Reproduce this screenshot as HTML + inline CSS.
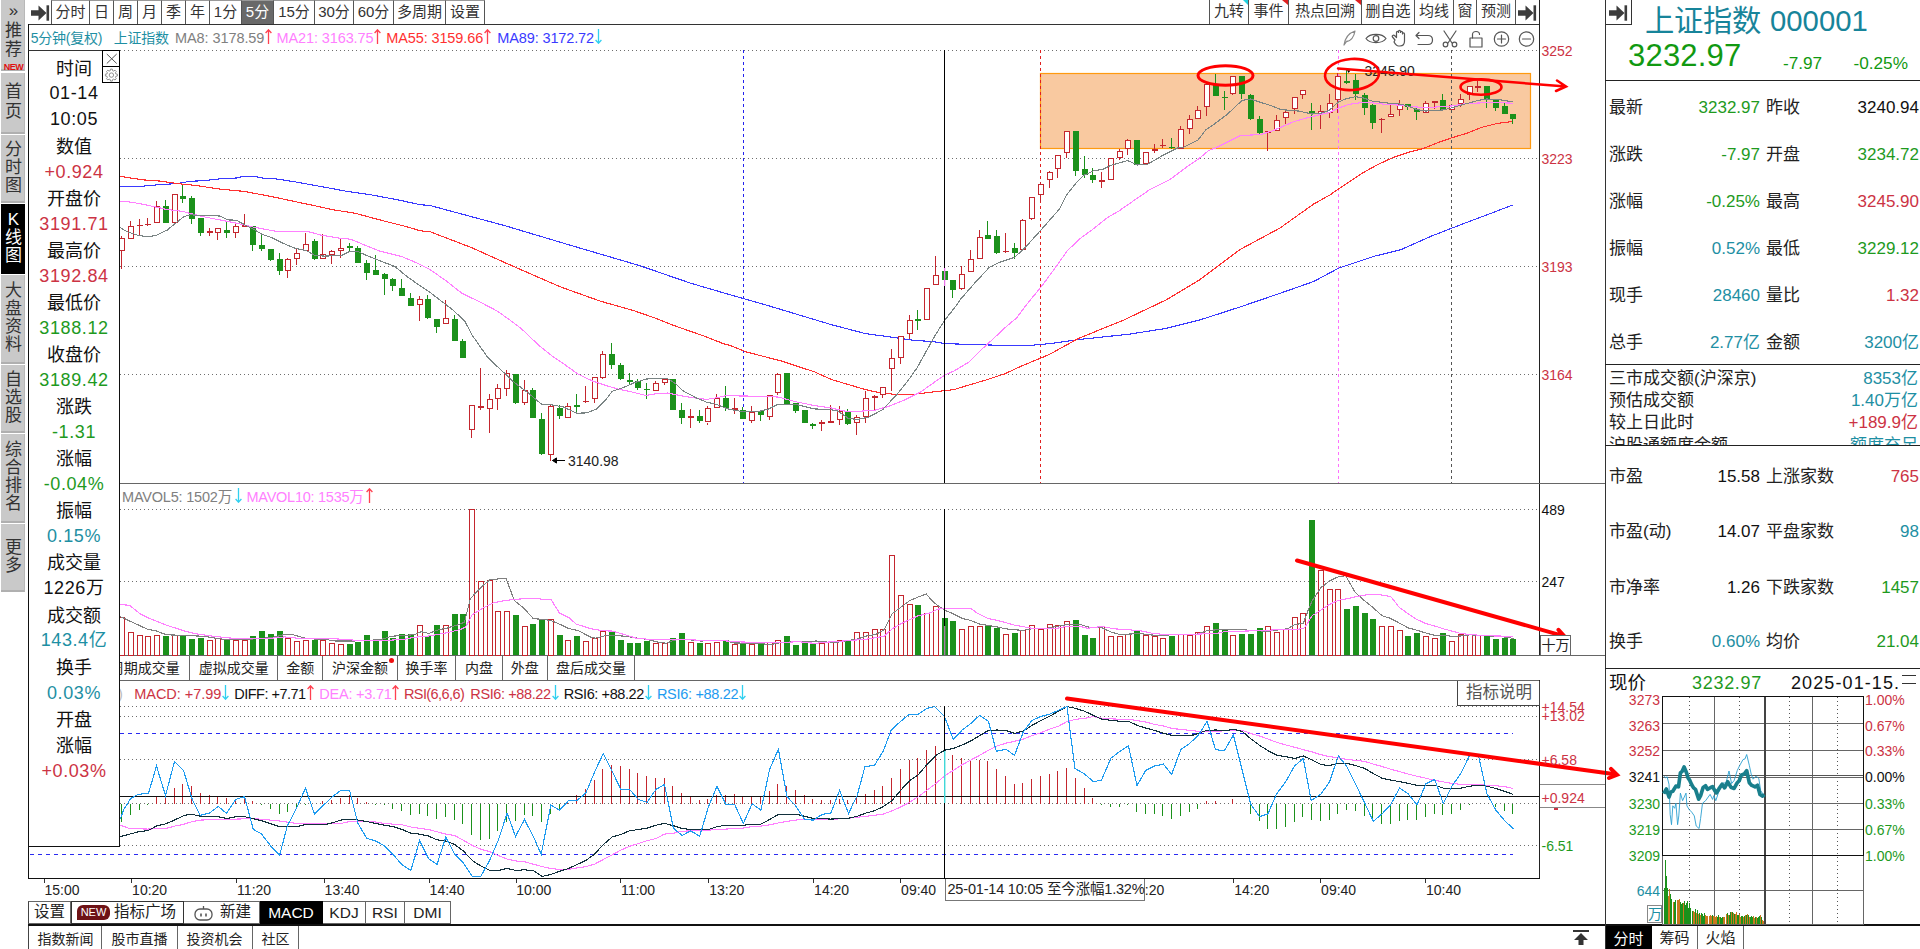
<!DOCTYPE html><html lang="zh"><head><meta charset="utf-8"><title>上证指数 000001</title><style>
*{box-sizing:border-box;margin:0;padding:0}
html,body{width:1920px;height:949px;overflow:hidden;background:#fff}
body{position:relative;font-family:"Liberation Sans","Noto Sans CJK SC",sans-serif;color:#222;font-size:14px}
.chart{position:absolute;left:0;top:0}
.chart text{font-family:"Liberation Sans","Noto Sans CJK SC",sans-serif}
.a{position:absolute;white-space:nowrap}
.tb{position:absolute;top:0;height:24px;border-left:1px solid #555;border-top:1px solid #999;line-height:22px;text-align:center;font-size:15px;color:#333;white-space:nowrap;overflow:hidden}
.tb.sel{background:#696969;color:#fff}
.side{position:absolute;left:1px;width:24px;background:#c9c9c9;border-bottom:2px solid #b0b0b0;border-right:1px solid #b8b8b8;color:#333;font-size:17px;line-height:18px;text-align:center;display:flex;flex-direction:column;justify-content:center;align-items:center;padding-left:2px}
.side.k{background:#000;color:#fff;border-color:#000}
.info{position:absolute;left:28px;top:50px;width:92px;height:797px;background:#fff;border:1px solid #111;border-top:1px solid #333}
.info div{position:absolute;left:0;width:90px;text-align:center;font-size:18px;line-height:26px;height:26px}
.r{color:#CC3344}.g{color:#1E9A1E}.t{color:#1E8FA3}.k{color:#111}
.yl{position:absolute;left:1541.5px;font-size:14px;line-height:16px;height:16px}
.tl{position:absolute;top:881px;font-size:14px;line-height:18px;color:#222}
.tab{position:absolute;border:1px solid #666;border-left:none;text-align:center;white-space:nowrap;color:#222;background:#fff}
.rp{position:absolute;font-size:17px;line-height:24px;height:24px;white-space:nowrap}
.rl{left:1609px}.rv{right:160px;text-align:right}.rl2{left:1766px}.rv2{right:1px;text-align:right}
.hl{position:absolute;left:1605px;width:315px;height:1px;background:#222}
.ml{position:absolute;font-size:14px;line-height:18px;height:18px}
</style></head><body>
<svg class="chart" width="1920" height="949" viewBox="0 0 1920 949">
<rect x="1040.5" y="73.5" width="490" height="75" fill="#F9C9A0" stroke="#FF9A10" stroke-width="1.2"/>
<g shape-rendering="crispEdges" fill="none">
<g stroke="#6e6e6e" stroke-dasharray="1 3">
<line x1="120" x2="1539" y1="50.5" y2="50.5"/>
<line x1="120" x2="1539" y1="158.5" y2="158.5"/>
<line x1="120" x2="1539" y1="266.5" y2="266.5"/>
<line x1="120" x2="1539" y1="374.5" y2="374.5"/>
<line x1="120" x2="1539" y1="509.5" y2="509.5"/>
<line x1="120" x2="1539" y1="581.5" y2="581.5"/>
<line x1="120" x2="1539" y1="706.5" y2="706.5"/>
<line x1="120" x2="1539" y1="716.5" y2="716.5"/>
<line x1="120" x2="1539" y1="759.5" y2="759.5"/>
<line x1="120" x2="1539" y1="803.5" y2="803.5"/>
<line x1="120" x2="1539" y1="845.5" y2="845.5"/>
</g>
<g stroke="#2a2af0" stroke-dasharray="4 4">
<line x1="120" x2="1513" y1="733.5" y2="733.5"/><line x1="30" x2="1513" y1="854.5" y2="854.5"/>
</g>
<line x1="743.5" x2="743.5" y1="50" y2="483" stroke="#2222ee" stroke-dasharray="3 3"/>
<line x1="1040.5" x2="1040.5" y1="50" y2="483" stroke="#e02020" stroke-dasharray="3 3"/>
<line x1="1338.5" x2="1338.5" y1="50" y2="483" stroke="#ff70ff" stroke-dasharray="3 3"/>
<line x1="1451.5" x2="1451.5" y1="50" y2="483" stroke="#555" stroke-dasharray="3 3"/>
<g stroke="#444">
<line x1="28" x2="1539" y1="24.5" y2="24.5" stroke="#333"/>
<line x1="28.5" x2="28.5" y1="24" y2="879" stroke="#111" stroke-width="1"/>
<line x1="1539.5" x2="1539.5" y1="0" y2="655" stroke="#222"/><line x1="1539.5" x2="1539.5" y1="680" y2="879" stroke="#222"/>
<line x1="28" x2="1605" y1="483.5" y2="483.5" stroke="#666"/>
<line x1="28" x2="1605" y1="655.5" y2="655.5" stroke="#666"/>
<line x1="28" x2="1539" y1="680.5" y2="680.5" stroke="#666"/>
<line x1="28" x2="1540" y1="878.5" y2="878.5" stroke="#111"/>
</g>
</g>
<g shape-rendering="crispEdges">
<rect x="119.5" y="617.1" width="5" height="38.4" fill="#fff" stroke="#C4262E"/>
<rect x="128.5" y="632.2" width="5" height="23.3" fill="#fff" stroke="#C4262E"/>
<rect x="137.5" y="635.9" width="5" height="19.6" fill="#fff" stroke="#C4262E"/>
<rect x="145.5" y="636.8" width="5" height="18.7" fill="#fff" stroke="#C4262E"/>
<rect x="154.5" y="635" width="5" height="20.5" fill="#fff" stroke="#C4262E"/>
<rect x="163" y="636" width="6" height="19" fill="#1B911B"/>
<rect x="172.5" y="635" width="5" height="20.5" fill="#fff" stroke="#C4262E"/>
<rect x="180" y="636" width="6" height="19" fill="#1B911B"/>
<rect x="189" y="639.2" width="6" height="15.8" fill="#1B911B"/>
<rect x="198" y="638.2" width="6" height="16.8" fill="#1B911B"/>
<rect x="207.5" y="640.6" width="5" height="14.9" fill="#fff" stroke="#C4262E"/>
<rect x="215.5" y="638.7" width="5" height="16.8" fill="#fff" stroke="#C4262E"/>
<rect x="224" y="639.5" width="6" height="15.5" fill="#1B911B"/>
<rect x="233.5" y="640" width="5" height="15.5" fill="#fff" stroke="#C4262E"/>
<rect x="242.5" y="640.6" width="5" height="14.9" fill="#fff" stroke="#C4262E"/>
<rect x="250" y="636" width="6" height="19" fill="#1B911B"/>
<rect x="259" y="631.1" width="6" height="23.9" fill="#1B911B"/>
<rect x="268" y="634.1" width="6" height="20.9" fill="#1B911B"/>
<rect x="277" y="631.1" width="6" height="23.9" fill="#1B911B"/>
<rect x="285.5" y="638.7" width="5" height="16.8" fill="#fff" stroke="#C4262E"/>
<rect x="294.5" y="641.5" width="5" height="14" fill="#fff" stroke="#C4262E"/>
<rect x="303.5" y="640.6" width="5" height="14.9" fill="#fff" stroke="#C4262E"/>
<rect x="312" y="639.5" width="6" height="15.5" fill="#1B911B"/>
<rect x="320.5" y="640" width="5" height="15.5" fill="#fff" stroke="#C4262E"/>
<rect x="329.5" y="643.8" width="5" height="11.7" fill="#fff" stroke="#C4262E"/>
<rect x="338.5" y="644.7" width="5" height="10.8" fill="#fff" stroke="#C4262E"/>
<rect x="347" y="644.2" width="6" height="10.8" fill="#1B911B"/>
<rect x="355" y="641.6" width="6" height="13.4" fill="#1B911B"/>
<rect x="364" y="635" width="6" height="20" fill="#1B911B"/>
<rect x="373" y="641" width="6" height="14" fill="#1B911B"/>
<rect x="382" y="631.1" width="6" height="23.9" fill="#1B911B"/>
<rect x="390" y="638.2" width="6" height="16.8" fill="#1B911B"/>
<rect x="399" y="634.1" width="6" height="20.9" fill="#1B911B"/>
<rect x="408" y="634.1" width="6" height="20.9" fill="#1B911B"/>
<rect x="417.5" y="625" width="5" height="30.5" fill="#fff" stroke="#C4262E"/>
<rect x="425" y="636" width="6" height="19" fill="#1B911B"/>
<rect x="434" y="625.1" width="6" height="29.9" fill="#1B911B"/>
<rect x="443.5" y="625.6" width="5" height="29.9" fill="#fff" stroke="#C4262E"/>
<rect x="452" y="613.8" width="6" height="41.2" fill="#1B911B"/>
<rect x="460" y="613.8" width="6" height="41.2" fill="#1B911B"/>
<rect x="469.5" y="509.8" width="5" height="145.7" fill="#fff" stroke="#C4262E"/>
<rect x="478.5" y="581.9" width="5" height="73.6" fill="#fff" stroke="#C4262E"/>
<rect x="487.5" y="580.2" width="5" height="75.3" fill="#fff" stroke="#C4262E"/>
<rect x="495.5" y="611" width="5" height="44.5" fill="#fff" stroke="#C4262E"/>
<rect x="504.5" y="611.9" width="5" height="43.6" fill="#fff" stroke="#C4262E"/>
<rect x="513" y="615.1" width="6" height="39.9" fill="#1B911B"/>
<rect x="522.5" y="626" width="5" height="29.5" fill="#fff" stroke="#C4262E"/>
<rect x="530" y="624.1" width="6" height="30.9" fill="#1B911B"/>
<rect x="539" y="619.5" width="6" height="35.5" fill="#1B911B"/>
<rect x="548.5" y="619" width="5" height="36.5" fill="#fff" stroke="#C4262E"/>
<rect x="557" y="635" width="6" height="20" fill="#1B911B"/>
<rect x="565.5" y="640" width="5" height="15.5" fill="#fff" stroke="#C4262E"/>
<rect x="574" y="636" width="6" height="19" fill="#1B911B"/>
<rect x="583.5" y="641" width="5" height="14.5" fill="#fff" stroke="#C4262E"/>
<rect x="592.5" y="638.7" width="5" height="16.8" fill="#fff" stroke="#C4262E"/>
<rect x="600.5" y="631.2" width="5" height="24.3" fill="#fff" stroke="#C4262E"/>
<rect x="609" y="631.7" width="6" height="23.3" fill="#1B911B"/>
<rect x="618" y="640.1" width="6" height="14.9" fill="#1B911B"/>
<rect x="627" y="643.3" width="6" height="11.7" fill="#1B911B"/>
<rect x="635" y="643.3" width="6" height="11.7" fill="#1B911B"/>
<rect x="644" y="641" width="6" height="14" fill="#1B911B"/>
<rect x="653.5" y="643.8" width="5" height="11.7" fill="#fff" stroke="#C4262E"/>
<rect x="662.5" y="643.8" width="5" height="11.7" fill="#fff" stroke="#C4262E"/>
<rect x="670" y="638.2" width="6" height="16.8" fill="#1B911B"/>
<rect x="679" y="633.2" width="6" height="21.8" fill="#1B911B"/>
<rect x="688.5" y="642.1" width="5" height="13.4" fill="#fff" stroke="#C4262E"/>
<rect x="697" y="643.3" width="6" height="11.7" fill="#1B911B"/>
<rect x="705.5" y="643.8" width="5" height="11.7" fill="#fff" stroke="#C4262E"/>
<rect x="714.5" y="642.1" width="5" height="13.4" fill="#fff" stroke="#C4262E"/>
<rect x="723" y="641" width="6" height="14" fill="#1B911B"/>
<rect x="732.5" y="644.7" width="5" height="10.8" fill="#fff" stroke="#C4262E"/>
<rect x="740" y="643.8" width="6" height="11.2" fill="#1B911B"/>
<rect x="749.5" y="644.7" width="5" height="10.8" fill="#fff" stroke="#C4262E"/>
<rect x="758" y="643.8" width="6" height="11.2" fill="#1B911B"/>
<rect x="767.5" y="642.1" width="5" height="13.4" fill="#fff" stroke="#C4262E"/>
<rect x="775.5" y="640" width="5" height="15.5" fill="#fff" stroke="#C4262E"/>
<rect x="784" y="636" width="6" height="19" fill="#1B911B"/>
<rect x="793" y="645.2" width="6" height="9.8" fill="#1B911B"/>
<rect x="802" y="643.3" width="6" height="11.7" fill="#1B911B"/>
<rect x="810" y="643.8" width="6" height="11.2" fill="#1B911B"/>
<rect x="819.5" y="643.8" width="5" height="11.7" fill="#fff" stroke="#C4262E"/>
<rect x="828.5" y="641" width="5" height="14.5" fill="#fff" stroke="#C4262E"/>
<rect x="837.5" y="640" width="5" height="15.5" fill="#fff" stroke="#C4262E"/>
<rect x="845" y="641" width="6" height="14" fill="#1B911B"/>
<rect x="854.5" y="632.2" width="5" height="23.3" fill="#fff" stroke="#C4262E"/>
<rect x="863.5" y="632.2" width="5" height="23.3" fill="#fff" stroke="#C4262E"/>
<rect x="872.5" y="629" width="5" height="26.5" fill="#fff" stroke="#C4262E"/>
<rect x="880.5" y="629" width="5" height="26.5" fill="#fff" stroke="#C4262E"/>
<rect x="889.5" y="555.8" width="5" height="99.7" fill="#fff" stroke="#C4262E"/>
<rect x="898.5" y="595" width="5" height="60.5" fill="#fff" stroke="#C4262E"/>
<rect x="907.5" y="604" width="5" height="51.5" fill="#fff" stroke="#C4262E"/>
<rect x="915" y="605.4" width="6" height="49.6" fill="#1B911B"/>
<rect x="924.5" y="613.8" width="5" height="41.7" fill="#fff" stroke="#C4262E"/>
<rect x="933.5" y="606.8" width="5" height="48.7" fill="#fff" stroke="#C4262E"/>
<rect x="942" y="618.1" width="6" height="36.9" fill="#1B911B"/>
<rect x="950" y="621.3" width="6" height="33.7" fill="#1B911B"/>
<rect x="959.5" y="629" width="5" height="26.5" fill="#fff" stroke="#C4262E"/>
<rect x="968.5" y="626.9" width="5" height="28.6" fill="#fff" stroke="#C4262E"/>
<rect x="977.5" y="626.9" width="5" height="28.6" fill="#fff" stroke="#C4262E"/>
<rect x="985" y="625.5" width="6" height="29.5" fill="#1B911B"/>
<rect x="994" y="627.9" width="6" height="27.1" fill="#1B911B"/>
<rect x="1003.5" y="634" width="5" height="21.5" fill="#fff" stroke="#C4262E"/>
<rect x="1012" y="633.2" width="6" height="21.8" fill="#1B911B"/>
<rect x="1020.5" y="630.3" width="5" height="25.2" fill="#fff" stroke="#C4262E"/>
<rect x="1029.5" y="625" width="5" height="30.5" fill="#fff" stroke="#C4262E"/>
<rect x="1038.5" y="629.3" width="5" height="26.2" fill="#fff" stroke="#C4262E"/>
<rect x="1047.5" y="624.1" width="5" height="31.4" fill="#fff" stroke="#C4262E"/>
<rect x="1055.5" y="625" width="5" height="30.5" fill="#fff" stroke="#C4262E"/>
<rect x="1064.5" y="621.8" width="5" height="33.7" fill="#fff" stroke="#C4262E"/>
<rect x="1073" y="620" width="6" height="35" fill="#1B911B"/>
<rect x="1082" y="635" width="6" height="20" fill="#1B911B"/>
<rect x="1090" y="638.2" width="6" height="16.8" fill="#1B911B"/>
<rect x="1099.5" y="626.9" width="5" height="28.6" fill="#fff" stroke="#C4262E"/>
<rect x="1108.5" y="636.8" width="5" height="18.7" fill="#fff" stroke="#C4262E"/>
<rect x="1117.5" y="636.8" width="5" height="18.7" fill="#fff" stroke="#C4262E"/>
<rect x="1125.5" y="634" width="5" height="21.5" fill="#fff" stroke="#C4262E"/>
<rect x="1134" y="630.7" width="6" height="24.3" fill="#1B911B"/>
<rect x="1143.5" y="635.9" width="5" height="19.6" fill="#fff" stroke="#C4262E"/>
<rect x="1152.5" y="636.8" width="5" height="18.7" fill="#fff" stroke="#C4262E"/>
<rect x="1160.5" y="638.7" width="5" height="16.8" fill="#fff" stroke="#C4262E"/>
<rect x="1169" y="636" width="6" height="19" fill="#1B911B"/>
<rect x="1178.5" y="634" width="5" height="21.5" fill="#fff" stroke="#C4262E"/>
<rect x="1187.5" y="635" width="5" height="20.5" fill="#fff" stroke="#C4262E"/>
<rect x="1195.5" y="632.2" width="5" height="23.3" fill="#fff" stroke="#C4262E"/>
<rect x="1204.5" y="626" width="5" height="29.5" fill="#fff" stroke="#C4262E"/>
<rect x="1213" y="623.2" width="6" height="31.8" fill="#1B911B"/>
<rect x="1222" y="630.3" width="6" height="24.7" fill="#1B911B"/>
<rect x="1230.5" y="635.9" width="5" height="19.6" fill="#fff" stroke="#C4262E"/>
<rect x="1239" y="634.1" width="6" height="20.9" fill="#1B911B"/>
<rect x="1248" y="634.1" width="6" height="20.9" fill="#1B911B"/>
<rect x="1257" y="628.3" width="6" height="26.7" fill="#1B911B"/>
<rect x="1265.5" y="626" width="5" height="29.5" fill="#fff" stroke="#C4262E"/>
<rect x="1274.5" y="632.2" width="5" height="23.3" fill="#fff" stroke="#C4262E"/>
<rect x="1283.5" y="629" width="5" height="26.5" fill="#fff" stroke="#C4262E"/>
<rect x="1292.5" y="617.1" width="5" height="38.4" fill="#fff" stroke="#C4262E"/>
<rect x="1300.5" y="613.8" width="5" height="41.7" fill="#fff" stroke="#C4262E"/>
<rect x="1309" y="520" width="6" height="135" fill="#1B911B"/>
<rect x="1318.5" y="570.2" width="5" height="85.3" fill="#fff" stroke="#C4262E"/>
<rect x="1327.5" y="589.9" width="5" height="65.6" fill="#fff" stroke="#C4262E"/>
<rect x="1335.5" y="589" width="5" height="66.5" fill="#fff" stroke="#C4262E"/>
<rect x="1344" y="609.1" width="6" height="45.9" fill="#1B911B"/>
<rect x="1353" y="606.3" width="6" height="48.7" fill="#1B911B"/>
<rect x="1362" y="613.3" width="6" height="41.7" fill="#1B911B"/>
<rect x="1370" y="619.1" width="6" height="35.9" fill="#1B911B"/>
<rect x="1379.5" y="626" width="5" height="29.5" fill="#fff" stroke="#C4262E"/>
<rect x="1388.5" y="626.9" width="5" height="28.6" fill="#fff" stroke="#C4262E"/>
<rect x="1397.5" y="630.8" width="5" height="24.7" fill="#fff" stroke="#C4262E"/>
<rect x="1405" y="636" width="6" height="19" fill="#1B911B"/>
<rect x="1414" y="633.2" width="6" height="21.8" fill="#1B911B"/>
<rect x="1423.5" y="636.8" width="5" height="18.7" fill="#fff" stroke="#C4262E"/>
<rect x="1432.5" y="638.7" width="5" height="16.8" fill="#fff" stroke="#C4262E"/>
<rect x="1440" y="633.2" width="6" height="21.8" fill="#1B911B"/>
<rect x="1449.5" y="641" width="5" height="14.5" fill="#fff" stroke="#C4262E"/>
<rect x="1458.5" y="634.6" width="5" height="20.9" fill="#fff" stroke="#C4262E"/>
<rect x="1467.5" y="634" width="5" height="21.5" fill="#fff" stroke="#C4262E"/>
<rect x="1475.5" y="635.9" width="5" height="19.6" fill="#fff" stroke="#C4262E"/>
<rect x="1484" y="636" width="6" height="19" fill="#1B911B"/>
<rect x="1493" y="639.2" width="6" height="15.8" fill="#1B911B"/>
<rect x="1502" y="638.2" width="6" height="16.8" fill="#1B911B"/>
<rect x="1510" y="639.2" width="6" height="15.8" fill="#1B911B"/>
</g>
<polyline points="120.3,616.6 132.5,622.3 147.5,629.2 156.9,631.1 166.3,634.8 185,635.4 203.8,636.3 222.6,639.2 241.3,639.5 260.1,638.6 273.2,637.3 284.5,634.5 292,634.5 305.1,638.2 316.4,639.2 325.8,639.5 335.1,641 353.9,641 372.7,640.1 382,639.2 391.4,636.3 402.7,635.4 413.9,634.8 421.4,631.7 428.9,633.5 438.3,629.8 447.7,627.9 457.1,625.1 464.6,622.3 464.7,621.3 470.3,598.8 480.6,587.6 490,579.7 506,578.2 514.4,600.7 523.8,608.2 533.2,618.5 542.6,619.5 550.8,620.4 559.4,624.1 568.8,628.5 578.2,630.7 591.3,637.3 595.1,638.2 606.3,635.4 615.7,635.4 628.9,636.7 638.2,638.2 647.6,639.5 657,642 666.4,643.3 673.9,640.1 685.1,639.2 700.2,641 718.9,640.7 728.3,640.7 732,642.9 750.8,643.3 760.2,643.3 769.6,644.8 778.9,642.9 790.2,642 803.3,641.6 816.5,641 823.1,641.6 832.5,642.9 847.5,640.7 856.9,639.2 866.3,636 875.7,634.5 884.1,629.8 892.2,613.8 900.8,607.3 909.6,600.7 918.4,596.9 926.3,594.1 933.8,602.6 944.5,610.1 953.3,613.8 962.2,618.5 970.8,620.4 979.6,624.1 988.4,625.5 997.1,627 1005.9,628.8 1014.5,629.8 1023.3,630.3 1032.1,628.8 1044.5,628.8 1053.9,627 1067,624.5 1080.2,624.5 1091.4,627.9 1102.1,627.9 1110.9,632 1119.6,634.5 1128.9,634.1 1140.2,633.5 1147.7,634.8 1159,635.4 1160,635.4 1178.8,634.5 1197.5,634.1 1206.9,630.7 1216.3,629.8 1244.4,629.2 1248.2,630.7 1268.8,631.1 1287.6,628.8 1294.5,624.7 1303.3,623.2 1308.2,610.1 1312.2,600.7 1320.8,587.6 1329.6,581 1338.4,576.7 1345.7,575.7 1355.1,592.3 1364.5,600.7 1373.3,607.8 1382.1,615.7 1390.8,618.5 1399.6,623.2 1408.4,627.9 1417,630.3 1425.9,633 1434.7,635.4 1443.3,635.4 1452.1,636.3 1460.9,636 1469.6,634.8 1478.4,635.4 1487,635.8 1495.8,636.3 1509,637.3 1514.6,639.2" fill="none" stroke="#808080" stroke-width="1.12" shape-rendering="crispEdges"/>
<polyline points="120.3,604.4 129.7,605.4 140,613.8 147.5,617.6 166.3,625.1 185,631.1 194.4,633.5 213.2,636.3 232,638.2 252.6,638.8 271.4,638.2 284.5,636.9 297.6,638.2 316.4,638.8 335.1,638.8 353.9,640.1 372.7,640.7 391.4,640.1 402.7,639.5 413.9,637.3 428.9,636 447.7,632.6 459,629.8 460,629.8 465.6,627 472.2,614.8 484.4,607.3 493.8,602.6 506.9,600.3 516.3,599.2 533.2,598.3 542.6,599.2 550.8,599.2 559.4,612.9 568.8,617.6 576.3,624.1 591.3,628.8 602.6,630.7 612.2,631.1 625.1,634.8 636.4,638.2 647.6,639.2 666.4,639.5 685.1,639.2 703.9,640.7 722.7,640.7 741.4,642 760.2,642.3 778.9,642.9 797.7,641.6 810.8,642.9 810,643.8 828.8,642 847.5,640.7 866.3,639.2 884.1,636.3 892.2,628.8 903.8,622.3 918.4,615.7 930.1,612.9 937.6,609.1 944.5,608.6 970.8,608.6 977,612.9 988.2,618.5 997.6,620.4 1014.5,625.1 1032.1,628.3 1044.5,628.8 1053.9,628.8 1067,626.4 1080.2,626.4 1087.7,628.3 1102.1,626.4 1113.9,628.8 1128.9,629.8 1140.2,630.7 1153.3,633.5 1160.8,634.1 1160,634.8 1188.1,634.8 1197.5,634.1 1216.3,633.5 1224.5,631.7 1244.4,631.1 1268.8,630.3 1282,629.2 1298.8,629.2 1304.5,627.9 1312.2,615.7 1320.8,610.1 1329.6,604.4 1338.4,600.3 1347.1,598.8 1355.9,596.6 1364.5,595.1 1373.3,594.1 1382.1,595.1 1390.8,596.6 1399.6,607.8 1408.4,613.8 1417,619.5 1425.9,623.6 1434.7,626 1443.3,628.8 1452.1,631.1 1460.9,633.5 1469.6,634.5 1487,635.8 1513.3,636.3" fill="none" stroke="#FF80FF" stroke-width="1.12" shape-rendering="crispEdges"/>
<g shape-rendering="crispEdges">
<line x1="121.5" x2="121.5" y1="803.5" y2="822" stroke="#1B911B"/>
<line x1="130.5" x2="130.5" y1="803.5" y2="814.8" stroke="#1B911B"/>
<line x1="139.5" x2="139.5" y1="803.5" y2="809.8" stroke="#1B911B"/>
<line x1="147.5" x2="147.5" y1="803.5" y2="804.7" stroke="#1B911B"/>
<line x1="156.5" x2="156.5" y1="803.5" y2="795.7" stroke="#C4262E"/>
<line x1="165.5" x2="165.5" y1="803.5" y2="794.7" stroke="#C4262E"/>
<line x1="174.5" x2="174.5" y1="803.5" y2="788.2" stroke="#C4262E"/>
<line x1="182.5" x2="182.5" y1="803.5" y2="784.4" stroke="#C4262E"/>
<line x1="191.5" x2="191.5" y1="803.5" y2="786.3" stroke="#C4262E"/>
<line x1="200.5" x2="200.5" y1="803.5" y2="792.9" stroke="#C4262E"/>
<line x1="209.5" x2="209.5" y1="803.5" y2="795.1" stroke="#C4262E"/>
<line x1="217.5" x2="217.5" y1="803.5" y2="796.1" stroke="#C4262E"/>
<line x1="226.5" x2="226.5" y1="803.5" y2="797.9" stroke="#C4262E"/>
<line x1="235.5" x2="235.5" y1="803.5" y2="798.5" stroke="#C4262E"/>
<line x1="244.5" x2="244.5" y1="803.5" y2="796.6" stroke="#C4262E"/>
<line x1="252.5" x2="252.5" y1="803.5" y2="801.3" stroke="#C4262E"/>
<line x1="261.5" x2="261.5" y1="803.5" y2="804.5" stroke="#1B911B"/>
<line x1="270.5" x2="270.5" y1="803.5" y2="808.8" stroke="#1B911B"/>
<line x1="279.5" x2="279.5" y1="803.5" y2="813.9" stroke="#1B911B"/>
<line x1="287.5" x2="287.5" y1="803.5" y2="811.6" stroke="#1B911B"/>
<line x1="296.5" x2="296.5" y1="803.5" y2="807.3" stroke="#1B911B"/>
<line x1="305.5" x2="305.5" y1="803.5" y2="804.5" stroke="#1B911B"/>
<line x1="314.5" x2="314.5" y1="803.5" y2="804.1" stroke="#1B911B"/>
<line x1="322.5" x2="322.5" y1="803.5" y2="801.3" stroke="#C4262E"/>
<line x1="331.5" x2="331.5" y1="803.5" y2="800.4" stroke="#C4262E"/>
<line x1="340.5" x2="340.5" y1="803.5" y2="797.9" stroke="#C4262E"/>
<line x1="349.5" x2="349.5" y1="803.5" y2="794.7" stroke="#C4262E"/>
<line x1="357.5" x2="357.5" y1="803.5" y2="797.9" stroke="#C4262E"/>
<line x1="366.5" x2="366.5" y1="803.5" y2="802.3" stroke="#C4262E"/>
<line x1="375.5" x2="375.5" y1="803.5" y2="804.5" stroke="#1B911B"/>
<line x1="384.5" x2="384.5" y1="803.5" y2="805.4" stroke="#1B911B"/>
<line x1="392.5" x2="392.5" y1="803.5" y2="808.8" stroke="#1B911B"/>
<line x1="401.5" x2="401.5" y1="803.5" y2="810.7" stroke="#1B911B"/>
<line x1="410.5" x2="410.5" y1="803.5" y2="814.8" stroke="#1B911B"/>
<line x1="419.5" x2="419.5" y1="803.5" y2="813.9" stroke="#1B911B"/>
<line x1="427.5" x2="427.5" y1="803.5" y2="815.8" stroke="#1B911B"/>
<line x1="436.5" x2="436.5" y1="803.5" y2="818.8" stroke="#1B911B"/>
<line x1="445.5" x2="445.5" y1="803.5" y2="816.7" stroke="#1B911B"/>
<line x1="454.5" x2="454.5" y1="803.5" y2="819.7" stroke="#1B911B"/>
<line x1="462.5" x2="462.5" y1="803.5" y2="823.8" stroke="#1B911B"/>
<line x1="471.5" x2="471.5" y1="803.5" y2="834.7" stroke="#1B911B"/>
<line x1="480.5" x2="480.5" y1="803.5" y2="839.8" stroke="#1B911B"/>
<line x1="489.5" x2="489.5" y1="803.5" y2="838.8" stroke="#1B911B"/>
<line x1="497.5" x2="497.5" y1="803.5" y2="831.3" stroke="#1B911B"/>
<line x1="506.5" x2="506.5" y1="803.5" y2="822" stroke="#1B911B"/>
<line x1="515.5" x2="515.5" y1="803.5" y2="820.6" stroke="#1B911B"/>
<line x1="524.5" x2="524.5" y1="803.5" y2="814.8" stroke="#1B911B"/>
<line x1="532.5" x2="532.5" y1="803.5" y2="815.8" stroke="#1B911B"/>
<line x1="541.5" x2="541.5" y1="803.5" y2="822" stroke="#1B911B"/>
<line x1="550.5" x2="550.5" y1="803.5" y2="813.9" stroke="#1B911B"/>
<line x1="559.5" x2="559.5" y1="803.5" y2="809.8" stroke="#1B911B"/>
<line x1="567.5" x2="567.5" y1="803.5" y2="801.3" stroke="#C4262E"/>
<line x1="576.5" x2="576.5" y1="803.5" y2="795.1" stroke="#C4262E"/>
<line x1="585.5" x2="585.5" y1="803.5" y2="789.1" stroke="#C4262E"/>
<line x1="594.5" x2="594.5" y1="803.5" y2="780.1" stroke="#C4262E"/>
<line x1="602.5" x2="602.5" y1="803.5" y2="769.4" stroke="#C4262E"/>
<line x1="611.5" x2="611.5" y1="803.5" y2="765.1" stroke="#C4262E"/>
<line x1="620.5" x2="620.5" y1="803.5" y2="766" stroke="#C4262E"/>
<line x1="629.5" x2="629.5" y1="803.5" y2="769" stroke="#C4262E"/>
<line x1="637.5" x2="637.5" y1="803.5" y2="773.2" stroke="#C4262E"/>
<line x1="646.5" x2="646.5" y1="803.5" y2="776" stroke="#C4262E"/>
<line x1="655.5" x2="655.5" y1="803.5" y2="778.2" stroke="#C4262E"/>
<line x1="664.5" x2="664.5" y1="803.5" y2="778.2" stroke="#C4262E"/>
<line x1="672.5" x2="672.5" y1="803.5" y2="786.3" stroke="#C4262E"/>
<line x1="681.5" x2="681.5" y1="803.5" y2="793.2" stroke="#C4262E"/>
<line x1="690.5" x2="690.5" y1="803.5" y2="796.6" stroke="#C4262E"/>
<line x1="699.5" x2="699.5" y1="803.5" y2="800.4" stroke="#C4262E"/>
<line x1="707.5" x2="707.5" y1="803.5" y2="799.4" stroke="#C4262E"/>
<line x1="716.5" x2="716.5" y1="803.5" y2="795.3" stroke="#C4262E"/>
<line x1="725.5" x2="725.5" y1="803.5" y2="795.3" stroke="#C4262E"/>
<line x1="734.5" x2="734.5" y1="803.5" y2="794.2" stroke="#C4262E"/>
<line x1="742.5" x2="742.5" y1="803.5" y2="796.6" stroke="#C4262E"/>
<line x1="751.5" x2="751.5" y1="803.5" y2="796.6" stroke="#C4262E"/>
<line x1="760.5" x2="760.5" y1="803.5" y2="796.6" stroke="#C4262E"/>
<line x1="769.5" x2="769.5" y1="803.5" y2="791.4" stroke="#C4262E"/>
<line x1="777.5" x2="777.5" y1="803.5" y2="784.4" stroke="#C4262E"/>
<line x1="786.5" x2="786.5" y1="803.5" y2="786.3" stroke="#C4262E"/>
<line x1="795.5" x2="795.5" y1="803.5" y2="790.4" stroke="#C4262E"/>
<line x1="804.5" x2="804.5" y1="803.5" y2="795.3" stroke="#C4262E"/>
<line x1="812.5" x2="812.5" y1="803.5" y2="799.4" stroke="#C4262E"/>
<line x1="821.5" x2="821.5" y1="803.5" y2="800.4" stroke="#C4262E"/>
<line x1="830.5" x2="830.5" y1="803.5" y2="800.4" stroke="#C4262E"/>
<line x1="839.5" x2="839.5" y1="803.5" y2="799.4" stroke="#C4262E"/>
<line x1="847.5" x2="847.5" y1="803.5" y2="800.4" stroke="#C4262E"/>
<line x1="856.5" x2="856.5" y1="803.5" y2="796.6" stroke="#C4262E"/>
<line x1="865.5" x2="865.5" y1="803.5" y2="794.2" stroke="#C4262E"/>
<line x1="874.5" x2="874.5" y1="803.5" y2="790.4" stroke="#C4262E"/>
<line x1="882.5" x2="882.5" y1="803.5" y2="786.3" stroke="#C4262E"/>
<line x1="891.5" x2="891.5" y1="803.5" y2="778.2" stroke="#C4262E"/>
<line x1="900.5" x2="900.5" y1="803.5" y2="769.4" stroke="#C4262E"/>
<line x1="909.5" x2="909.5" y1="803.5" y2="759.5" stroke="#C4262E"/>
<line x1="917.5" x2="917.5" y1="803.5" y2="758.2" stroke="#C4262E"/>
<line x1="926.5" x2="926.5" y1="803.5" y2="750.3" stroke="#C4262E"/>
<line x1="935.5" x2="935.5" y1="803.5" y2="746" stroke="#C4262E"/>
<line x1="944.5" x2="944.5" y1="803.5" y2="750.7" stroke="#30d0d0"/>
<line x1="952.5" x2="952.5" y1="803.5" y2="755.3" stroke="#C4262E"/>
<line x1="961.5" x2="961.5" y1="803.5" y2="758.2" stroke="#C4262E"/>
<line x1="970.5" x2="970.5" y1="803.5" y2="761" stroke="#C4262E"/>
<line x1="979.5" x2="979.5" y1="803.5" y2="759.5" stroke="#C4262E"/>
<line x1="987.5" x2="987.5" y1="803.5" y2="761.4" stroke="#C4262E"/>
<line x1="996.5" x2="996.5" y1="803.5" y2="769.4" stroke="#C4262E"/>
<line x1="1005.5" x2="1005.5" y1="803.5" y2="776" stroke="#C4262E"/>
<line x1="1014.5" x2="1014.5" y1="803.5" y2="784.4" stroke="#C4262E"/>
<line x1="1022.5" x2="1022.5" y1="803.5" y2="783.1" stroke="#C4262E"/>
<line x1="1031.5" x2="1031.5" y1="803.5" y2="779.2" stroke="#C4262E"/>
<line x1="1040.5" x2="1040.5" y1="803.5" y2="776" stroke="#C4262E"/>
<line x1="1049.5" x2="1049.5" y1="803.5" y2="774.1" stroke="#C4262E"/>
<line x1="1057.5" x2="1057.5" y1="803.5" y2="771.3" stroke="#C4262E"/>
<line x1="1066.5" x2="1066.5" y1="803.5" y2="768.1" stroke="#C4262E"/>
<line x1="1075.5" x2="1075.5" y1="803.5" y2="778.2" stroke="#C4262E"/>
<line x1="1084.5" x2="1084.5" y1="803.5" y2="788.2" stroke="#C4262E"/>
<line x1="1092.5" x2="1092.5" y1="803.5" y2="798.1" stroke="#C4262E"/>
<line x1="1101.5" x2="1101.5" y1="803.5" y2="805.4" stroke="#1B911B"/>
<line x1="1110.5" x2="1110.5" y1="803.5" y2="806.6" stroke="#1B911B"/>
<line x1="1119.5" x2="1119.5" y1="803.5" y2="806.6" stroke="#1B911B"/>
<line x1="1127.5" x2="1127.5" y1="803.5" y2="805.4" stroke="#1B911B"/>
<line x1="1136.5" x2="1136.5" y1="803.5" y2="811.6" stroke="#1B911B"/>
<line x1="1145.5" x2="1145.5" y1="803.5" y2="813.9" stroke="#1B911B"/>
<line x1="1154.5" x2="1154.5" y1="803.5" y2="814.4" stroke="#1B911B"/>
<line x1="1162.5" x2="1162.5" y1="803.5" y2="815.8" stroke="#1B911B"/>
<line x1="1171.5" x2="1171.5" y1="803.5" y2="819.1" stroke="#1B911B"/>
<line x1="1180.5" x2="1180.5" y1="803.5" y2="815.7" stroke="#1B911B"/>
<line x1="1189.5" x2="1189.5" y1="803.5" y2="812" stroke="#1B911B"/>
<line x1="1197.5" x2="1197.5" y1="803.5" y2="808.8" stroke="#1B911B"/>
<line x1="1206.5" x2="1206.5" y1="803.5" y2="800.7" stroke="#C4262E"/>
<line x1="1215.5" x2="1215.5" y1="803.5" y2="800.7" stroke="#C4262E"/>
<line x1="1232.5" x2="1232.5" y1="803.5" y2="799.2" stroke="#C4262E"/>
<line x1="1250.5" x2="1250.5" y1="803.5" y2="813.8" stroke="#1B911B"/>
<line x1="1259.5" x2="1259.5" y1="803.5" y2="821.3" stroke="#1B911B"/>
<line x1="1267.5" x2="1267.5" y1="803.5" y2="828.8" stroke="#1B911B"/>
<line x1="1276.5" x2="1276.5" y1="803.5" y2="828.8" stroke="#1B911B"/>
<line x1="1285.5" x2="1285.5" y1="803.5" y2="826.6" stroke="#1B911B"/>
<line x1="1294.5" x2="1294.5" y1="803.5" y2="821.9" stroke="#1B911B"/>
<line x1="1302.5" x2="1302.5" y1="803.5" y2="816.6" stroke="#1B911B"/>
<line x1="1311.5" x2="1311.5" y1="803.5" y2="820.4" stroke="#1B911B"/>
<line x1="1320.5" x2="1320.5" y1="803.5" y2="820.8" stroke="#1B911B"/>
<line x1="1329.5" x2="1329.5" y1="803.5" y2="819.5" stroke="#1B911B"/>
<line x1="1337.5" x2="1337.5" y1="803.5" y2="813.8" stroke="#1B911B"/>
<line x1="1346.5" x2="1346.5" y1="803.5" y2="809.7" stroke="#1B911B"/>
<line x1="1355.5" x2="1355.5" y1="803.5" y2="810.6" stroke="#1B911B"/>
<line x1="1364.5" x2="1364.5" y1="803.5" y2="815.7" stroke="#1B911B"/>
<line x1="1372.5" x2="1372.5" y1="803.5" y2="821.3" stroke="#1B911B"/>
<line x1="1381.5" x2="1381.5" y1="803.5" y2="823.8" stroke="#1B911B"/>
<line x1="1390.5" x2="1390.5" y1="803.5" y2="823.8" stroke="#1B911B"/>
<line x1="1399.5" x2="1399.5" y1="803.5" y2="820.8" stroke="#1B911B"/>
<line x1="1407.5" x2="1407.5" y1="803.5" y2="819.5" stroke="#1B911B"/>
<line x1="1416.5" x2="1416.5" y1="803.5" y2="819.5" stroke="#1B911B"/>
<line x1="1425.5" x2="1425.5" y1="803.5" y2="816.6" stroke="#1B911B"/>
<line x1="1434.5" x2="1434.5" y1="803.5" y2="813.8" stroke="#1B911B"/>
<line x1="1442.5" x2="1442.5" y1="803.5" y2="814.8" stroke="#1B911B"/>
<line x1="1451.5" x2="1451.5" y1="803.5" y2="813.8" stroke="#1B911B"/>
<line x1="1460.5" x2="1460.5" y1="803.5" y2="809.7" stroke="#1B911B"/>
<line x1="1469.5" x2="1469.5" y1="803.5" y2="805.4" stroke="#1B911B"/>
<line x1="1486.5" x2="1486.5" y1="803.5" y2="804.4" stroke="#1B911B"/>
<line x1="1495.5" x2="1495.5" y1="803.5" y2="807.3" stroke="#1B911B"/>
<line x1="1504.5" x2="1504.5" y1="803.5" y2="810.6" stroke="#1B911B"/>
<line x1="1512.5" x2="1512.5" y1="803.5" y2="813.8" stroke="#1B911B"/>
</g>
<line x1="120" x2="1539" y1="796.5" y2="796.5" stroke="#111" stroke-width="1.2" shape-rendering="crispEdges"/>
<polyline points="120.3,825.3 129.7,828.5 147.5,829.1 165.9,828.5 174.5,826.1 183.4,824.4 192.2,821.6 200.8,820.1 218.4,819.1 235.9,819.1 253.3,818.6 270.8,820.1 279.6,821 288.4,822.3 297.1,823.5 305.9,823.8 323.3,823.8 332.1,823.8 340.8,823.5 349.6,821.6 358.4,821.4 367,821.6 375.9,822 384.7,823.5 402.1,824.8 410.9,827 428.4,829.5 445.8,834.1 454.7,835.5 463.4,840.3 472.2,845.4 480.8,849.2 489.6,851.6 498.5,855.7 507.1,859.1 515.9,861 524.5,861.7 533.4,864.2 542.2,866.6 550.8,868.5 559.6,869.4 568.4,869.4 577.1,867.9 585.9,866.6 594.5,864.2 603.3,859.5 612.2,854.8 620.8,850.1 629.6,846.3 638.4,843.5 647.1,840.7 655.9,838.5 664.5,834.1 673.3,833.2 682.1,831.3 690.8,830.8 699.6,830.4 708.4,830 717,829.8 725.9,829.1 734.7,828.5 743.3,828.1 752.1,826.6 760.9,826.1 769.6,824.8 778.4,822.9 787,821.4 795.8,820.1 804.7,819.1 813.4,819.5 830.8,819.5 848.5,818.2 865.9,816.3 883.4,814.1 892.2,810.7 900.8,806.9 909.6,802.3 918.4,796.6 927.1,790.1 935.9,783.5 944.5,776 953.3,770.4 962.2,764.7 970.8,760 979.6,755.3 988.4,750.3 997.1,746 1005.9,743.2 1014.5,741.3 1023.3,739 1032.1,735.6 1040.8,732.8 1049.6,729.1 1058.4,726.3 1067,721.6 1075.9,719.3 1084.7,718.4 1093.3,716.5 1102.1,718.4 1110.9,718.8 1119.6,719.3 1128.4,719.3 1137,720.6 1145.8,722.1 1154.7,724.4 1163.4,726 1172.2,728.5 1180.8,729.4 1198.5,731.3 1215.9,731.3 1233.4,730.3 1242.2,730.3 1250.8,733.5 1259.6,736 1268.4,739.2 1277.1,742.5 1285.9,745 1294.5,747.2 1303.3,749.7 1312.2,751.9 1320.8,754.7 1329.6,756.6 1338.4,757.9 1347.1,759.4 1355.9,760.4 1364.5,761.3 1373.3,764.1 1382.1,766.5 1390.8,769.2 1399.6,771.6 1408.4,774.1 1417,776.3 1425.9,778.2 1434.7,780.4 1443.3,781.9 1452.1,783.4 1460.9,784.4 1469.6,784.4 1478.4,784.4 1487,785.3 1495.8,785.7 1504.7,786.6 1513.3,788.5" fill="none" stroke="#FF80FF" stroke-width="1.12" shape-rendering="crispEdges"/>
<polyline points="120.3,836.6 138.1,831.9 148.5,830.4 157.1,825.7 165.9,823.8 174.5,820.1 183.4,815.8 190.7,814.1 200.8,816.3 218.4,816.7 227.1,818.6 235.9,816.7 244.5,816.7 253.3,818.6 262.2,821 270.8,823.8 279.6,826.6 297.1,826.6 305.9,824.4 325.8,824.4 332.1,822.9 340.8,820.1 349.6,819.1 358.4,820.1 367,821.6 375.9,823.5 384.7,825.3 393.3,826.6 402.1,829.5 410.9,833.2 419.6,834.1 428.4,836 437,839.8 445.8,841.1 454.7,844.5 463.4,851 472.2,860.4 480.8,866 489.6,870.4 498.5,870.4 507.1,868.5 515.9,870.4 524.5,869.8 533.4,870.7 542.2,876.4 550.8,874.5 559.6,871.3 568.4,868.5 577.1,864.5 585.9,860.4 594.5,854.2 603.3,844.5 612.2,837 620.8,834.5 629.6,830.8 638.4,829.5 647.1,828.1 655.9,825.3 664.5,823.3 673.3,825.7 682.1,828.5 690.8,829.5 699.6,829.8 708.4,829.5 717,826.6 725.9,825.3 734.7,825.3 743.3,825.3 752.1,824.2 760.9,824.2 769.6,819.5 778.4,814.4 787,814.1 795.8,814.1 804.7,816.3 813.4,818.4 822.2,818.6 830.8,819.1 839.6,818.6 848.5,818.2 857.1,816.3 865.9,813.1 874.5,810.7 883.4,806.6 892.2,800.4 900.8,790.1 909.6,780.7 918.4,774.7 927.1,764.4 935.9,755.3 944.5,750.3 953.3,748.4 962.2,745 970.8,740.9 979.6,735.6 988.4,730.4 997.1,730 1005.9,730.4 1014.5,733.4 1023.3,731 1032.1,725.3 1040.8,720.6 1049.6,716.3 1058.4,711.3 1067,706.6 1075.9,708.4 1084.7,711.3 1093.3,715.4 1102.1,719.3 1110.9,720.3 1119.6,721.2 1128.4,721.2 1137,725.3 1145.8,728.1 1154.7,730.4 1163.4,733.2 1172.2,735.4 1180.8,735.4 1193.8,735 1207.1,730.3 1215.9,730 1224.5,730.9 1233.4,729.4 1242.2,731.3 1250.8,738.8 1259.6,745.3 1268.4,751 1277.1,755.3 1285.9,756.6 1294.5,758.5 1303.3,756 1312.2,760 1320.8,764.5 1329.6,765.6 1338.4,763.2 1347.1,763.5 1355.9,765.6 1364.5,768.4 1373.3,773.5 1382.1,778.2 1390.8,780.1 1399.6,781.6 1408.4,783.4 1417,785.3 1425.9,785.3 1434.7,785.3 1443.3,788.1 1452.1,788.1 1460.9,788.1 1469.6,786.2 1478.4,785.3 1487,786.2 1495.8,788.5 1504.7,791.3 1513.3,794.5" fill="none" stroke="#12303c" stroke-width="1.12" shape-rendering="crispEdges"/>
<polyline points="120.3,819.1 124.1,808.8 130.8,798.5 138.1,794.4 148.5,793.2 156.5,766 165.5,795.7 174.5,761.4 183.7,770.9 192.2,799.4 200.2,815.4 209.4,813.1 218.4,806.4 226.5,813.5 235.9,799.4 244.5,796.6 253.3,829.5 261.2,833.6 270.8,846 279.6,855.3 287.3,826.1 297.1,806.9 305.5,788.2 314.5,814.1 323.3,805.4 332.1,797 340.8,790.4 349.6,790.4 357.7,822.9 366.7,838.3 375.9,841.1 384.7,846 393.3,854.8 402.1,864.7 410.9,870.4 419.6,840.7 428.4,858.5 437,864.5 445.8,837 454.7,854.2 463.4,862.9 472.2,876.4 480.8,876.4 489.6,860.4 498.5,839.8 507.1,813.1 515.5,836.4 524.5,819.5 533.4,836.6 541.2,854.2 550.8,805.1 559.6,810.1 568.4,800.8 577.1,800.4 585.9,792.9 594.5,772.2 603.3,753.5 612.2,771.3 620.8,789.5 629.6,789.5 638.4,799.4 647.1,802.3 655.9,789.5 664.5,784.4 673.3,828.1 682.1,835.5 690.8,830.8 699.6,836.4 708.4,806.9 717,786.3 725.9,804.5 734.7,804.5 743.3,823.5 752.1,803.8 760.9,810.1 769.6,769.4 778.4,749.3 787,796.6 795.8,806 804.7,819.5 813.4,820.1 822.2,814.4 830.8,813.1 839.6,790.4 848.5,813.5 857.1,795.7 865,766.6 874.5,765.3 883.4,750.7 891.2,730 900.8,721.2 909.6,714.1 918.4,714.1 927.1,708.4 934.8,706.6 944.5,716.5 953.3,739.4 962.2,730 970.8,723.5 979.6,715.4 988.4,721.2 996.3,751.2 1005.9,749.3 1014.5,755.3 1023.3,731.9 1032.1,720.3 1040.8,716.5 1049.6,714.1 1058.4,710.3 1067,706.6 1074.9,768.5 1084.7,774.1 1093.3,781.6 1101.4,780.3 1110.9,758.2 1119.6,751.6 1128.4,745.6 1137,785.4 1145.8,770.4 1154.7,766 1163.4,764.1 1171.6,774.4 1180.8,749.7 1189.6,743.5 1198.5,735 1207.1,721.3 1215.5,749.7 1224.5,750.6 1233.4,735 1242.2,770.1 1250.8,804.4 1259.6,816.6 1267.9,813.8 1276.5,794.1 1285.9,781.4 1294.5,766 1303.3,758.5 1311.2,800.7 1320.8,794.1 1329.6,781.9 1338.4,755.7 1347.1,766.9 1355.9,784.7 1364.5,802.6 1373.3,821.3 1382.1,813.8 1390.8,804.4 1399.6,788.1 1408.4,794.1 1417,805 1425.9,783.8 1434.7,779.5 1443.3,803.5 1452.1,785.7 1460.9,773.5 1469.6,755.3 1478.4,755.3 1487,793.8 1495.8,810.1 1504.7,820.8 1513.3,828.8" fill="none" stroke="#1E9BF0" stroke-width="1.12" shape-rendering="crispEdges"/>
<polyline points="120.1,186.5 143.7,186.1 160.6,184.5 177.5,183.6 189.3,181.4 204.4,180.6 219.6,178.9 236.5,178 243.2,176.4 255,176.4 261.8,178 273.6,178.5 295.5,181.9 320.8,186.5 346.1,191.2 371.4,194.9 396.7,199.6 420.3,204.7 430,205.5 505.7,225.9 573.2,246.1 639.9,265.7 690.6,283.2 730,294.7 763.7,304.3 797.5,314.5 831.2,324.6 864.9,333.5 898.6,338.1 915.5,340.6 932.4,341.4 944.5,343.6 966.1,344.3 993.1,345.1 1033.5,345.1 1050,343.6 1078.3,339.6 1128.9,334.2 1166,328.4 1199.7,320 1240,307 1280,293.3 1313.7,281.5 1339,268 1374.4,256.2 1401.4,249.5 1431.7,236 1462,224.2 1489,214.1 1512.6,205" fill="none" stroke="#3a3aff" stroke-width="1.12" shape-rendering="crispEdges"/>
<polyline points="120.1,176.4 143.7,179.9 160.6,181.1 177.5,183.6 194.3,185.3 219.6,189 244.9,191.5 270.2,196.3 295.5,201.7 312.4,205.2 332.6,209.7 354.5,213.1 379.8,219.9 405.1,226.3 420.3,230.8 430,231.7 472,247.8 505.7,263 559.7,286.6 600.1,301.1 634.2,310.8 656.1,318.4 673,325.2 689.8,331.1 706.7,337 723.5,343.7 730,345.3 746.9,352.1 780.6,360.8 814.3,371.8 831.2,379.4 864.9,389.5 881.8,393.2 898.6,394.6 915.5,394.2 932.4,392 944.5,390.7 954.3,389.5 971.1,384.4 988,379.4 1004.9,373.8 1021.7,365.9 1040.3,358.3 1050,354.1 1078.3,338.5 1123.8,320 1166,300 1199.7,279.8 1240.1,249.5 1280,228 1313.7,204 1329.8,195 1349,181.9 1363.8,172.3 1378.5,164.2 1393.3,157.5 1408,152.4 1422.8,148.7 1437.5,142.8 1452.3,137.6 1467,133.2 1481.8,127.3 1496.5,123.6 1513,121.4" fill="none" stroke="#ff3030" stroke-width="1.12" shape-rendering="crispEdges"/>
<g shape-rendering="crispEdges">
<line x1="121.5" x2="121.5" y1="236.2" y2="238.4" stroke="#C4262E"/>
<line x1="121.5" x2="121.5" y1="250.6" y2="268.8" stroke="#C4262E"/>
<rect x="119.5" y="238.9" width="5" height="11.1" fill="#fff" stroke="#C4262E"/>
<line x1="130.5" x2="130.5" y1="221" y2="226.3" stroke="#C4262E"/>
<rect x="128.5" y="226.8" width="5" height="11.3" fill="#fff" stroke="#C4262E"/>
<line x1="139.5" x2="139.5" y1="219" y2="235.4" stroke="#C4262E"/>
<rect x="137" y="224.8" width="6" height="1.5" fill="#C4262E"/>
<line x1="147.5" x2="147.5" y1="217.8" y2="226.1" stroke="#C4262E"/>
<rect x="145" y="223.9" width="6" height="1.5" fill="#C4262E"/>
<line x1="156.5" x2="156.5" y1="201" y2="206.4" stroke="#C4262E"/>
<rect x="154.5" y="206.9" width="5" height="15.4" fill="#fff" stroke="#C4262E"/>
<line x1="165.5" x2="165.5" y1="200" y2="222.7" stroke="#1B911B"/>
<rect x="163" y="205.9" width="6" height="16.9" fill="#1B911B"/>
<rect x="172.5" y="194.7" width="5" height="27.5" fill="#fff" stroke="#C4262E"/>
<line x1="182.5" x2="182.5" y1="185.3" y2="202.7" stroke="#1B911B"/>
<rect x="180" y="195.9" width="6" height="2.9" fill="#1B911B"/>
<line x1="191.5" x2="191.5" y1="195.9" y2="224.1" stroke="#1B911B"/>
<rect x="189" y="198.1" width="6" height="20.6" fill="#1B911B"/>
<line x1="200.5" x2="200.5" y1="217.8" y2="235.9" stroke="#1B911B"/>
<rect x="198" y="217.8" width="6" height="15" fill="#1B911B"/>
<line x1="209.5" x2="209.5" y1="228" y2="231.2" stroke="#C4262E"/>
<line x1="209.5" x2="209.5" y1="232.8" y2="235.9" stroke="#C4262E"/>
<rect x="207.5" y="231.7" width="5" height="1" fill="#fff" stroke="#C4262E"/>
<line x1="217.5" x2="217.5" y1="232.5" y2="239.8" stroke="#C4262E"/>
<rect x="215.5" y="228.8" width="5" height="3.2" fill="#fff" stroke="#C4262E"/>
<line x1="226.5" x2="226.5" y1="221.6" y2="237.9" stroke="#1B911B"/>
<rect x="224" y="230.3" width="6" height="2.5" fill="#1B911B"/>
<line x1="235.5" x2="235.5" y1="224.1" y2="226.3" stroke="#C4262E"/>
<line x1="235.5" x2="235.5" y1="232.5" y2="237.9" stroke="#C4262E"/>
<rect x="233.5" y="226.8" width="5" height="5.2" fill="#fff" stroke="#C4262E"/>
<line x1="244.5" x2="244.5" y1="214" y2="225.8" stroke="#C4262E"/>
<rect x="242" y="225.1" width="6" height="1.5" fill="#C4262E"/>
<line x1="252.5" x2="252.5" y1="226.1" y2="251.1" stroke="#1B911B"/>
<rect x="250" y="226.1" width="6" height="18.7" fill="#1B911B"/>
<line x1="261.5" x2="261.5" y1="233.4" y2="251.1" stroke="#1B911B"/>
<rect x="259" y="245.2" width="6" height="3.7" fill="#1B911B"/>
<line x1="270.5" x2="270.5" y1="249" y2="260.8" stroke="#1B911B"/>
<rect x="268" y="249" width="6" height="10.8" fill="#1B911B"/>
<line x1="279.5" x2="279.5" y1="253.1" y2="275" stroke="#1B911B"/>
<rect x="277" y="259.2" width="6" height="11.6" fill="#1B911B"/>
<line x1="287.5" x2="287.5" y1="257.8" y2="259.2" stroke="#C4262E"/>
<line x1="287.5" x2="287.5" y1="270.8" y2="277.7" stroke="#C4262E"/>
<rect x="285.5" y="259.7" width="5" height="10.6" fill="#fff" stroke="#C4262E"/>
<line x1="296.5" x2="296.5" y1="248" y2="253.3" stroke="#C4262E"/>
<line x1="296.5" x2="296.5" y1="258.7" y2="264.9" stroke="#C4262E"/>
<rect x="294.5" y="253.8" width="5" height="4.4" fill="#fff" stroke="#C4262E"/>
<line x1="305.5" x2="305.5" y1="233" y2="243.5" stroke="#C4262E"/>
<rect x="303.5" y="244" width="5" height="6.3" fill="#fff" stroke="#C4262E"/>
<line x1="314.5" x2="314.5" y1="238.9" y2="260" stroke="#1B911B"/>
<rect x="312" y="240.9" width="6" height="17.9" fill="#1B911B"/>
<line x1="322.5" x2="322.5" y1="233.9" y2="254.4" stroke="#C4262E"/>
<rect x="320.5" y="254.9" width="5" height="3.2" fill="#fff" stroke="#C4262E"/>
<line x1="331.5" x2="331.5" y1="250.2" y2="251.4" stroke="#C4262E"/>
<line x1="331.5" x2="331.5" y1="254.9" y2="264" stroke="#C4262E"/>
<rect x="329.5" y="251.9" width="5" height="2.5" fill="#fff" stroke="#C4262E"/>
<line x1="340.5" x2="340.5" y1="238.4" y2="248.2" stroke="#C4262E"/>
<line x1="340.5" x2="340.5" y1="250.6" y2="257.8" stroke="#C4262E"/>
<rect x="338.5" y="248.7" width="5" height="1.4" fill="#fff" stroke="#C4262E"/>
<line x1="349.5" x2="349.5" y1="243" y2="251.1" stroke="#1B911B"/>
<rect x="347" y="246.3" width="6" height="1.5" fill="#1B911B"/>
<line x1="357.5" x2="357.5" y1="246" y2="262.9" stroke="#1B911B"/>
<rect x="355" y="248" width="6" height="14.5" fill="#1B911B"/>
<line x1="366.5" x2="366.5" y1="260.3" y2="280.1" stroke="#1B911B"/>
<rect x="364" y="263.2" width="6" height="9.4" fill="#1B911B"/>
<line x1="375.5" x2="375.5" y1="254.9" y2="274.7" stroke="#1B911B"/>
<rect x="373" y="270.1" width="6" height="4.6" fill="#1B911B"/>
<line x1="384.5" x2="384.5" y1="273.3" y2="294.9" stroke="#1B911B"/>
<rect x="382" y="274.3" width="6" height="4.2" fill="#1B911B"/>
<line x1="392.5" x2="392.5" y1="278" y2="291" stroke="#1B911B"/>
<rect x="390" y="279.2" width="6" height="6.4" fill="#1B911B"/>
<line x1="401.5" x2="401.5" y1="279.2" y2="295.8" stroke="#1B911B"/>
<rect x="399" y="288.2" width="6" height="7.6" fill="#1B911B"/>
<line x1="410.5" x2="410.5" y1="293.2" y2="305.9" stroke="#1B911B"/>
<rect x="408" y="298.3" width="6" height="7.6" fill="#1B911B"/>
<line x1="419.5" x2="419.5" y1="296.3" y2="299.1" stroke="#C4262E"/>
<line x1="419.5" x2="419.5" y1="305.4" y2="321" stroke="#C4262E"/>
<rect x="417.5" y="299.6" width="5" height="5.3" fill="#fff" stroke="#C4262E"/>
<line x1="427.5" x2="427.5" y1="294.9" y2="318.5" stroke="#1B911B"/>
<rect x="425" y="299.1" width="6" height="18.5" fill="#1B911B"/>
<line x1="436.5" x2="436.5" y1="319.3" y2="332.8" stroke="#1B911B"/>
<rect x="434" y="319.3" width="6" height="8.1" fill="#1B911B"/>
<line x1="445.5" x2="445.5" y1="300" y2="318.4" stroke="#C4262E"/>
<rect x="443.5" y="318.9" width="5" height="4.9" fill="#fff" stroke="#C4262E"/>
<line x1="454.5" x2="454.5" y1="315.1" y2="340.7" stroke="#1B911B"/>
<rect x="452" y="319.3" width="6" height="21.4" fill="#1B911B"/>
<line x1="462.5" x2="462.5" y1="339" y2="357.7" stroke="#1B911B"/>
<rect x="460" y="341.2" width="6" height="16.5" fill="#1B911B"/>
<line x1="471.5" x2="471.5" y1="429.7" y2="437.8" stroke="#C4262E"/>
<rect x="469.5" y="405.8" width="5" height="23.5" fill="#fff" stroke="#C4262E"/>
<line x1="480.5" x2="480.5" y1="368.2" y2="409.5" stroke="#C4262E"/>
<rect x="478" y="406.1" width="6" height="1.5" fill="#C4262E"/>
<line x1="489.5" x2="489.5" y1="394.3" y2="399.4" stroke="#C4262E"/>
<line x1="489.5" x2="489.5" y1="408.7" y2="432.8" stroke="#C4262E"/>
<rect x="487.5" y="399.9" width="5" height="8.3" fill="#fff" stroke="#C4262E"/>
<line x1="497.5" x2="497.5" y1="384.2" y2="388.4" stroke="#C4262E"/>
<line x1="497.5" x2="497.5" y1="399.4" y2="409.8" stroke="#C4262E"/>
<rect x="495.5" y="388.9" width="5" height="10" fill="#fff" stroke="#C4262E"/>
<line x1="506.5" x2="506.5" y1="369.9" y2="373.2" stroke="#C4262E"/>
<line x1="506.5" x2="506.5" y1="389.3" y2="395.7" stroke="#C4262E"/>
<rect x="504.5" y="373.7" width="5" height="15" fill="#fff" stroke="#C4262E"/>
<line x1="515.5" x2="515.5" y1="374.1" y2="403.6" stroke="#1B911B"/>
<rect x="513" y="374.1" width="6" height="28.7" fill="#1B911B"/>
<line x1="524.5" x2="524.5" y1="380" y2="390.4" stroke="#C4262E"/>
<line x1="524.5" x2="524.5" y1="402.7" y2="404.8" stroke="#C4262E"/>
<rect x="522.5" y="390.9" width="5" height="11.3" fill="#fff" stroke="#C4262E"/>
<line x1="532.5" x2="532.5" y1="388.1" y2="418.4" stroke="#1B911B"/>
<rect x="530" y="390.1" width="6" height="27.5" fill="#1B911B"/>
<line x1="541.5" x2="541.5" y1="413.2" y2="454.7" stroke="#1B911B"/>
<rect x="539" y="419.3" width="6" height="34.9" fill="#1B911B"/>
<line x1="550.5" x2="550.5" y1="405.3" y2="406.1" stroke="#C4262E"/>
<line x1="550.5" x2="550.5" y1="454.5" y2="460.9" stroke="#C4262E"/>
<rect x="548.5" y="406.6" width="5" height="47.4" fill="#fff" stroke="#C4262E"/>
<line x1="559.5" x2="559.5" y1="405.3" y2="418.8" stroke="#1B911B"/>
<rect x="557" y="408.3" width="6" height="7.4" fill="#1B911B"/>
<line x1="567.5" x2="567.5" y1="403.1" y2="405.6" stroke="#C4262E"/>
<rect x="565.5" y="406.1" width="5" height="11.8" fill="#fff" stroke="#C4262E"/>
<line x1="576.5" x2="576.5" y1="394" y2="413.2" stroke="#1B911B"/>
<rect x="574" y="405.3" width="6" height="1.5" fill="#1B911B"/>
<line x1="585.5" x2="585.5" y1="386.2" y2="402.7" stroke="#C4262E"/>
<rect x="583" y="400.7" width="6" height="1.5" fill="#C4262E"/>
<line x1="594.5" x2="594.5" y1="399.4" y2="402.7" stroke="#C4262E"/>
<rect x="592.5" y="377.1" width="5" height="21.8" fill="#fff" stroke="#C4262E"/>
<line x1="602.5" x2="602.5" y1="351" y2="354.4" stroke="#C4262E"/>
<line x1="602.5" x2="602.5" y1="377.8" y2="378.6" stroke="#C4262E"/>
<rect x="600.5" y="354.9" width="5" height="22.4" fill="#fff" stroke="#C4262E"/>
<line x1="611.5" x2="611.5" y1="343.2" y2="368.7" stroke="#1B911B"/>
<rect x="609" y="354.2" width="6" height="10.6" fill="#1B911B"/>
<line x1="620.5" x2="620.5" y1="363.1" y2="379.5" stroke="#1B911B"/>
<rect x="618" y="365.1" width="6" height="14.3" fill="#1B911B"/>
<line x1="629.5" x2="629.5" y1="373.2" y2="384.2" stroke="#1B911B"/>
<rect x="627" y="380.2" width="6" height="1.5" fill="#1B911B"/>
<line x1="637.5" x2="637.5" y1="379.1" y2="389.6" stroke="#1B911B"/>
<rect x="635" y="381.2" width="6" height="6.4" fill="#1B911B"/>
<line x1="646.5" x2="646.5" y1="383.4" y2="398.9" stroke="#1B911B"/>
<rect x="644" y="388.9" width="6" height="1.5" fill="#1B911B"/>
<line x1="655.5" x2="655.5" y1="380.8" y2="383.4" stroke="#C4262E"/>
<rect x="653.5" y="383.9" width="5" height="6.1" fill="#fff" stroke="#C4262E"/>
<line x1="664.5" x2="664.5" y1="382.5" y2="384.7" stroke="#C4262E"/>
<rect x="662.5" y="379.6" width="5" height="2.4" fill="#fff" stroke="#C4262E"/>
<line x1="672.5" x2="672.5" y1="379.1" y2="409.5" stroke="#1B911B"/>
<rect x="670" y="379.1" width="6" height="30.4" fill="#1B911B"/>
<line x1="681.5" x2="681.5" y1="403.1" y2="423.8" stroke="#1B911B"/>
<rect x="679" y="410.3" width="6" height="7.3" fill="#1B911B"/>
<line x1="690.5" x2="690.5" y1="409.2" y2="416.2" stroke="#C4262E"/>
<line x1="690.5" x2="690.5" y1="418.4" y2="427.7" stroke="#C4262E"/>
<rect x="688.5" y="416.7" width="5" height="1.2" fill="#fff" stroke="#C4262E"/>
<line x1="699.5" x2="699.5" y1="410.3" y2="422.6" stroke="#1B911B"/>
<rect x="697" y="416.2" width="6" height="4.6" fill="#1B911B"/>
<line x1="707.5" x2="707.5" y1="406.1" y2="408.1" stroke="#C4262E"/>
<line x1="707.5" x2="707.5" y1="422.5" y2="424.7" stroke="#C4262E"/>
<rect x="705.5" y="408.6" width="5" height="13.3" fill="#fff" stroke="#C4262E"/>
<line x1="716.5" x2="716.5" y1="393.8" y2="398" stroke="#C4262E"/>
<rect x="714.5" y="398.5" width="5" height="9.3" fill="#fff" stroke="#C4262E"/>
<line x1="725.5" x2="725.5" y1="386.2" y2="410.8" stroke="#1B911B"/>
<rect x="723" y="398" width="6" height="10.3" fill="#1B911B"/>
<line x1="734.5" x2="734.5" y1="398" y2="413.7" stroke="#C4262E"/>
<rect x="732" y="408.3" width="6" height="1.5" fill="#C4262E"/>
<line x1="742.5" x2="742.5" y1="407.2" y2="418.7" stroke="#1B911B"/>
<rect x="740" y="410.2" width="6" height="8.4" fill="#1B911B"/>
<line x1="751.5" x2="751.5" y1="405.5" y2="411.8" stroke="#C4262E"/>
<line x1="751.5" x2="751.5" y1="420.7" y2="422.9" stroke="#C4262E"/>
<rect x="749.5" y="412.3" width="5" height="7.9" fill="#fff" stroke="#C4262E"/>
<line x1="760.5" x2="760.5" y1="410.1" y2="420.7" stroke="#1B911B"/>
<rect x="758" y="411.1" width="6" height="3.7" fill="#1B911B"/>
<line x1="769.5" x2="769.5" y1="417.3" y2="419.5" stroke="#C4262E"/>
<rect x="767.5" y="395.1" width="5" height="21.8" fill="#fff" stroke="#C4262E"/>
<line x1="777.5" x2="777.5" y1="373.1" y2="374.3" stroke="#C4262E"/>
<line x1="777.5" x2="777.5" y1="393.4" y2="394.6" stroke="#C4262E"/>
<rect x="775.5" y="374.8" width="5" height="18.1" fill="#fff" stroke="#C4262E"/>
<line x1="786.5" x2="786.5" y1="373.1" y2="403.8" stroke="#1B911B"/>
<rect x="784" y="373.1" width="6" height="30.7" fill="#1B911B"/>
<line x1="795.5" x2="795.5" y1="403.3" y2="412.8" stroke="#1B911B"/>
<rect x="793" y="403.3" width="6" height="7.6" fill="#1B911B"/>
<line x1="804.5" x2="804.5" y1="410.2" y2="422.7" stroke="#1B911B"/>
<rect x="802" y="410.2" width="6" height="12.5" fill="#1B911B"/>
<line x1="812.5" x2="812.5" y1="423.2" y2="428.6" stroke="#1B911B"/>
<rect x="810" y="424.2" width="6" height="1.5" fill="#1B911B"/>
<line x1="821.5" x2="821.5" y1="420.2" y2="421.5" stroke="#C4262E"/>
<line x1="821.5" x2="821.5" y1="424.4" y2="430.8" stroke="#C4262E"/>
<rect x="819.5" y="422" width="5" height="1.9" fill="#fff" stroke="#C4262E"/>
<line x1="830.5" x2="830.5" y1="405.2" y2="422.7" stroke="#C4262E"/>
<rect x="828" y="421.2" width="6" height="1.5" fill="#C4262E"/>
<line x1="839.5" x2="839.5" y1="406.4" y2="411.4" stroke="#C4262E"/>
<line x1="839.5" x2="839.5" y1="419.5" y2="424.6" stroke="#C4262E"/>
<rect x="837.5" y="411.9" width="5" height="7.1" fill="#fff" stroke="#C4262E"/>
<line x1="847.5" x2="847.5" y1="409.4" y2="424.6" stroke="#1B911B"/>
<rect x="845" y="411.8" width="6" height="12" fill="#1B911B"/>
<line x1="856.5" x2="856.5" y1="415.3" y2="416.5" stroke="#C4262E"/>
<line x1="856.5" x2="856.5" y1="423.2" y2="434.7" stroke="#C4262E"/>
<rect x="854.5" y="417" width="5" height="5.7" fill="#fff" stroke="#C4262E"/>
<line x1="865.5" x2="865.5" y1="391.2" y2="398.4" stroke="#C4262E"/>
<line x1="865.5" x2="865.5" y1="417.3" y2="422.7" stroke="#C4262E"/>
<rect x="863.5" y="398.9" width="5" height="17.9" fill="#fff" stroke="#C4262E"/>
<line x1="874.5" x2="874.5" y1="395.1" y2="396.2" stroke="#C4262E"/>
<line x1="874.5" x2="874.5" y1="398.4" y2="410.1" stroke="#C4262E"/>
<rect x="872.5" y="396.7" width="5" height="1.2" fill="#fff" stroke="#C4262E"/>
<line x1="882.5" x2="882.5" y1="395.4" y2="397.6" stroke="#C4262E"/>
<rect x="880.5" y="387" width="5" height="7.9" fill="#fff" stroke="#C4262E"/>
<line x1="891.5" x2="891.5" y1="349" y2="358.3" stroke="#C4262E"/>
<line x1="891.5" x2="891.5" y1="369.3" y2="390.7" stroke="#C4262E"/>
<rect x="889.5" y="358.8" width="5" height="10" fill="#fff" stroke="#C4262E"/>
<line x1="900.5" x2="900.5" y1="358.3" y2="363.7" stroke="#C4262E"/>
<rect x="898.5" y="336.9" width="5" height="20.9" fill="#fff" stroke="#C4262E"/>
<line x1="909.5" x2="909.5" y1="315.3" y2="319.5" stroke="#C4262E"/>
<line x1="909.5" x2="909.5" y1="334.4" y2="338.9" stroke="#C4262E"/>
<rect x="907.5" y="320" width="5" height="13.8" fill="#fff" stroke="#C4262E"/>
<line x1="917.5" x2="917.5" y1="310.2" y2="329.6" stroke="#1B911B"/>
<rect x="915" y="319.2" width="6" height="1.5" fill="#1B911B"/>
<rect x="924.5" y="288.9" width="5" height="30.1" fill="#fff" stroke="#C4262E"/>
<line x1="935.5" x2="935.5" y1="256" y2="275.4" stroke="#C4262E"/>
<rect x="933.5" y="275.9" width="5" height="8.9" fill="#fff" stroke="#C4262E"/>
<line x1="944.5" x2="944.5" y1="269.6" y2="286.9" stroke="#1B911B"/>
<rect x="942" y="271.2" width="6" height="8.4" fill="#1B911B"/>
<line x1="952.5" x2="952.5" y1="280.3" y2="297.7" stroke="#1B911B"/>
<rect x="950" y="280.3" width="6" height="9.3" fill="#1B911B"/>
<line x1="961.5" x2="961.5" y1="266.1" y2="273.6" stroke="#C4262E"/>
<line x1="961.5" x2="961.5" y1="288.7" y2="289.7" stroke="#C4262E"/>
<rect x="959.5" y="274.1" width="5" height="14.2" fill="#fff" stroke="#C4262E"/>
<line x1="970.5" x2="970.5" y1="250.1" y2="259.4" stroke="#C4262E"/>
<rect x="968.5" y="259.9" width="5" height="12" fill="#fff" stroke="#C4262E"/>
<line x1="979.5" x2="979.5" y1="230.2" y2="236.5" stroke="#C4262E"/>
<rect x="977.5" y="237" width="5" height="21.9" fill="#fff" stroke="#C4262E"/>
<line x1="987.5" x2="987.5" y1="221.3" y2="238.7" stroke="#1B911B"/>
<rect x="985" y="235.3" width="6" height="3.4" fill="#1B911B"/>
<line x1="996.5" x2="996.5" y1="230.2" y2="253.8" stroke="#1B911B"/>
<rect x="994" y="236.1" width="6" height="16.5" fill="#1B911B"/>
<line x1="1005.5" x2="1005.5" y1="233.1" y2="252.6" stroke="#C4262E"/>
<rect x="1003" y="250.5" width="6" height="1.5" fill="#C4262E"/>
<line x1="1014.5" x2="1014.5" y1="243.2" y2="258.9" stroke="#1B911B"/>
<rect x="1012" y="248.4" width="6" height="4.2" fill="#1B911B"/>
<line x1="1022.5" x2="1022.5" y1="219.3" y2="220.4" stroke="#C4262E"/>
<rect x="1020.5" y="220.9" width="5" height="29" fill="#fff" stroke="#C4262E"/>
<line x1="1031.5" x2="1031.5" y1="218.8" y2="219.6" stroke="#C4262E"/>
<rect x="1029.5" y="197" width="5" height="21.3" fill="#fff" stroke="#C4262E"/>
<line x1="1040.5" x2="1040.5" y1="182.2" y2="184.4" stroke="#C4262E"/>
<line x1="1040.5" x2="1040.5" y1="194.5" y2="201.6" stroke="#C4262E"/>
<rect x="1038.5" y="184.9" width="5" height="9.1" fill="#fff" stroke="#C4262E"/>
<line x1="1049.5" x2="1049.5" y1="170.5" y2="171.5" stroke="#C4262E"/>
<line x1="1049.5" x2="1049.5" y1="180.4" y2="187.5" stroke="#C4262E"/>
<rect x="1047.5" y="172" width="5" height="7.9" fill="#fff" stroke="#C4262E"/>
<line x1="1057.5" x2="1057.5" y1="169.3" y2="177.7" stroke="#C4262E"/>
<rect x="1055.5" y="155.1" width="5" height="13.8" fill="#fff" stroke="#C4262E"/>
<line x1="1066.5" x2="1066.5" y1="153.1" y2="158.3" stroke="#C4262E"/>
<rect x="1064.5" y="131" width="5" height="21.6" fill="#fff" stroke="#C4262E"/>
<line x1="1075.5" x2="1075.5" y1="131.3" y2="175.7" stroke="#1B911B"/>
<rect x="1073" y="131.3" width="6" height="39.2" fill="#1B911B"/>
<line x1="1084.5" x2="1084.5" y1="156" y2="177.7" stroke="#1B911B"/>
<rect x="1082" y="169.3" width="6" height="5.2" fill="#1B911B"/>
<line x1="1092.5" x2="1092.5" y1="168.3" y2="182.6" stroke="#1B911B"/>
<rect x="1090" y="174.5" width="6" height="5.9" fill="#1B911B"/>
<line x1="1101.5" x2="1101.5" y1="171.5" y2="187.5" stroke="#C4262E"/>
<rect x="1099" y="180.1" width="6" height="1.5" fill="#C4262E"/>
<rect x="1108.5" y="158.8" width="5" height="21.1" fill="#fff" stroke="#C4262E"/>
<line x1="1119.5" x2="1119.5" y1="149.4" y2="150.6" stroke="#C4262E"/>
<line x1="1119.5" x2="1119.5" y1="157.5" y2="159.7" stroke="#C4262E"/>
<rect x="1117.5" y="151.1" width="5" height="5.9" fill="#fff" stroke="#C4262E"/>
<line x1="1127.5" x2="1127.5" y1="139.1" y2="140.1" stroke="#C4262E"/>
<line x1="1127.5" x2="1127.5" y1="149.4" y2="154.6" stroke="#C4262E"/>
<rect x="1125.5" y="140.6" width="5" height="8.3" fill="#fff" stroke="#C4262E"/>
<line x1="1136.5" x2="1136.5" y1="140.1" y2="164.9" stroke="#1B911B"/>
<rect x="1134" y="140.1" width="6" height="24.8" fill="#1B911B"/>
<rect x="1143.5" y="152.1" width="5" height="11.8" fill="#fff" stroke="#C4262E"/>
<line x1="1154.5" x2="1154.5" y1="144.2" y2="149" stroke="#C4262E"/>
<line x1="1154.5" x2="1154.5" y1="150.6" y2="152.7" stroke="#C4262E"/>
<rect x="1152.5" y="149.5" width="5" height="1" fill="#fff" stroke="#C4262E"/>
<line x1="1162.5" x2="1162.5" y1="139.1" y2="148.2" stroke="#C4262E"/>
<rect x="1160" y="144.7" width="6" height="1.5" fill="#C4262E"/>
<line x1="1171.5" x2="1171.5" y1="138.3" y2="149.4" stroke="#1B911B"/>
<rect x="1169" y="146.5" width="6" height="1.8" fill="#1B911B"/>
<line x1="1180.5" x2="1180.5" y1="125.5" y2="129.2" stroke="#C4262E"/>
<rect x="1178.5" y="129.7" width="5" height="18.8" fill="#fff" stroke="#C4262E"/>
<line x1="1189.5" x2="1189.5" y1="115.2" y2="119.2" stroke="#C4262E"/>
<line x1="1189.5" x2="1189.5" y1="128.8" y2="133.9" stroke="#C4262E"/>
<rect x="1187.5" y="119.7" width="5" height="8.6" fill="#fff" stroke="#C4262E"/>
<line x1="1197.5" x2="1197.5" y1="106.3" y2="110.3" stroke="#C4262E"/>
<rect x="1195.5" y="110.8" width="5" height="8.1" fill="#fff" stroke="#C4262E"/>
<line x1="1206.5" x2="1206.5" y1="107.4" y2="115.8" stroke="#C4262E"/>
<rect x="1204.5" y="84" width="5" height="22.9" fill="#fff" stroke="#C4262E"/>
<line x1="1215.5" x2="1215.5" y1="73.9" y2="95.6" stroke="#1B911B"/>
<rect x="1213" y="85.2" width="6" height="10.3" fill="#1B911B"/>
<line x1="1224.5" x2="1224.5" y1="91.1" y2="109.6" stroke="#1B911B"/>
<rect x="1222" y="96.5" width="6" height="1.5" fill="#1B911B"/>
<line x1="1232.5" x2="1232.5" y1="93.6" y2="94.8" stroke="#C4262E"/>
<rect x="1230.5" y="76.9" width="5" height="16.3" fill="#fff" stroke="#C4262E"/>
<line x1="1241.5" x2="1241.5" y1="76.1" y2="98.8" stroke="#1B911B"/>
<rect x="1239" y="76.1" width="6" height="17.6" fill="#1B911B"/>
<line x1="1250.5" x2="1250.5" y1="94.1" y2="119.5" stroke="#1B911B"/>
<rect x="1248" y="95.1" width="6" height="24.3" fill="#1B911B"/>
<line x1="1259.5" x2="1259.5" y1="116.2" y2="133.9" stroke="#1B911B"/>
<rect x="1257" y="119.2" width="6" height="13.7" fill="#1B911B"/>
<line x1="1267.5" x2="1267.5" y1="133.2" y2="150.9" stroke="#C4262E"/>
<rect x="1265.5" y="131.2" width="5" height="1.5" fill="#fff" stroke="#C4262E"/>
<line x1="1276.5" x2="1276.5" y1="115.2" y2="119.5" stroke="#C4262E"/>
<rect x="1274.5" y="120" width="5" height="10.1" fill="#fff" stroke="#C4262E"/>
<line x1="1285.5" x2="1285.5" y1="109.6" y2="111.5" stroke="#C4262E"/>
<line x1="1285.5" x2="1285.5" y1="118.4" y2="123.6" stroke="#C4262E"/>
<rect x="1283.5" y="112" width="5" height="5.9" fill="#fff" stroke="#C4262E"/>
<line x1="1294.5" x2="1294.5" y1="109.3" y2="114" stroke="#C4262E"/>
<rect x="1292.5" y="97.1" width="5" height="11.7" fill="#fff" stroke="#C4262E"/>
<line x1="1302.5" x2="1302.5" y1="95.1" y2="98.8" stroke="#C4262E"/>
<rect x="1300.5" y="90.2" width="5" height="4.5" fill="#fff" stroke="#C4262E"/>
<line x1="1311.5" x2="1311.5" y1="102.9" y2="129.9" stroke="#1B911B"/>
<rect x="1309" y="111.1" width="6" height="3" fill="#1B911B"/>
<line x1="1320.5" x2="1320.5" y1="105.2" y2="110.8" stroke="#C4262E"/>
<line x1="1320.5" x2="1320.5" y1="114" y2="128.8" stroke="#C4262E"/>
<rect x="1318.5" y="111.3" width="5" height="2.2" fill="#fff" stroke="#C4262E"/>
<line x1="1329.5" x2="1329.5" y1="94.1" y2="103.4" stroke="#C4262E"/>
<line x1="1329.5" x2="1329.5" y1="113.3" y2="118" stroke="#C4262E"/>
<rect x="1327.5" y="103.9" width="5" height="8.9" fill="#fff" stroke="#C4262E"/>
<line x1="1337.5" x2="1337.5" y1="73.4" y2="76.4" stroke="#C4262E"/>
<line x1="1337.5" x2="1337.5" y1="100.4" y2="113.3" stroke="#C4262E"/>
<rect x="1335.5" y="76.9" width="5" height="23" fill="#fff" stroke="#C4262E"/>
<line x1="1346.5" x2="1346.5" y1="69.8" y2="84.2" stroke="#1B911B"/>
<rect x="1344" y="80.5" width="6" height="2.1" fill="#1B911B"/>
<line x1="1355.5" x2="1355.5" y1="74.2" y2="99.7" stroke="#1B911B"/>
<rect x="1353" y="80.4" width="6" height="13.3" fill="#1B911B"/>
<line x1="1364.5" x2="1364.5" y1="93.1" y2="114.7" stroke="#1B911B"/>
<rect x="1362" y="95.1" width="6" height="12.5" fill="#1B911B"/>
<line x1="1372.5" x2="1372.5" y1="104" y2="128.8" stroke="#1B911B"/>
<rect x="1370" y="105.2" width="6" height="17.7" fill="#1B911B"/>
<line x1="1381.5" x2="1381.5" y1="118.1" y2="132.7" stroke="#C4262E"/>
<rect x="1379" y="118.9" width="6" height="1.5" fill="#C4262E"/>
<line x1="1390.5" x2="1390.5" y1="105.2" y2="113.6" stroke="#C4262E"/>
<rect x="1388.5" y="114.1" width="5" height="2.8" fill="#fff" stroke="#C4262E"/>
<line x1="1399.5" x2="1399.5" y1="100" y2="104.4" stroke="#C4262E"/>
<line x1="1399.5" x2="1399.5" y1="110.3" y2="115.8" stroke="#C4262E"/>
<rect x="1397.5" y="104.9" width="5" height="4.9" fill="#fff" stroke="#C4262E"/>
<line x1="1407.5" x2="1407.5" y1="104.4" y2="109.9" stroke="#1B911B"/>
<rect x="1405" y="104.4" width="6" height="2.2" fill="#1B911B"/>
<line x1="1416.5" x2="1416.5" y1="106.6" y2="119.9" stroke="#1B911B"/>
<rect x="1414" y="109.3" width="6" height="3" fill="#1B911B"/>
<line x1="1425.5" x2="1425.5" y1="101.2" y2="103.4" stroke="#C4262E"/>
<rect x="1423.5" y="103.9" width="5" height="8.1" fill="#fff" stroke="#C4262E"/>
<line x1="1434.5" x2="1434.5" y1="103.4" y2="108.8" stroke="#C4262E"/>
<rect x="1432.5" y="101.2" width="5" height="1.7" fill="#fff" stroke="#C4262E"/>
<line x1="1442.5" x2="1442.5" y1="94.1" y2="110.3" stroke="#1B911B"/>
<rect x="1440" y="100.3" width="6" height="10" fill="#1B911B"/>
<rect x="1449.5" y="105.4" width="5" height="4.5" fill="#fff" stroke="#C4262E"/>
<line x1="1460.5" x2="1460.5" y1="94.1" y2="98.5" stroke="#C4262E"/>
<line x1="1460.5" x2="1460.5" y1="104.4" y2="107.4" stroke="#C4262E"/>
<rect x="1458.5" y="99" width="5" height="4.9" fill="#fff" stroke="#C4262E"/>
<line x1="1469.5" x2="1469.5" y1="95.1" y2="99.7" stroke="#C4262E"/>
<rect x="1467.5" y="86" width="5" height="8.6" fill="#fff" stroke="#C4262E"/>
<line x1="1477.5" x2="1477.5" y1="81.3" y2="91.9" stroke="#C4262E"/>
<rect x="1475" y="86.1" width="6" height="1.5" fill="#C4262E"/>
<line x1="1486.5" x2="1486.5" y1="86.3" y2="107.8" stroke="#1B911B"/>
<rect x="1484" y="86.3" width="6" height="12.5" fill="#1B911B"/>
<line x1="1495.5" x2="1495.5" y1="99.3" y2="110.8" stroke="#1B911B"/>
<rect x="1493" y="99.3" width="6" height="8.4" fill="#1B911B"/>
<line x1="1504.5" x2="1504.5" y1="101.5" y2="113.6" stroke="#1B911B"/>
<rect x="1502" y="105.9" width="6" height="7.7" fill="#1B911B"/>
<line x1="1512.5" x2="1512.5" y1="114" y2="123.9" stroke="#1B911B"/>
<rect x="1510" y="114" width="6" height="4.7" fill="#1B911B"/>
</g>
<polyline points="120.1,201.3 131.9,202.2 148.8,205.5 165.6,209.2 182.5,211.4 201.1,216.2 219.6,219.9 236.5,223.2 253.3,227.1 275.3,231.2 295.5,231.2 306.5,231.2 320.8,235 337.7,237.9 351.1,239.3 362.9,244.3 379.8,251.1 401.7,256.5 418.6,263.7 430,269.6 445,280 461.9,293.3 480,302 496.7,310.8 507.7,318.4 521.2,328.5 538,344.6 551.5,355.5 565,364.8 578.5,374.4 592,380.8 605.5,385.4 619,389.3 632.5,392.1 646,395.5 656.1,393.8 667.9,393 679.7,395.5 693.2,397.7 706.7,399.4 716.8,397.7 726.9,395.5 740,396 763.7,396.2 778.9,397.1 787.3,399.6 797.5,402.1 814.3,405.5 831.2,408 844.7,411.1 858.2,411.4 875,410.1 888.5,406.4 905.4,399.6 920.6,392 932.4,383.6 944.5,375.2 954.3,370.9 969.5,361.7 983,348.2 993.1,338.9 1006.6,326.3 1016.7,317.8 1026.8,304.3 1038.6,290 1045,281.7 1056.8,265.6 1066.9,251.3 1078.8,239.5 1093.9,228.5 1107.4,217.6 1119.2,210.8 1136.1,199 1149.6,189.7 1169.8,179.6 1186.7,167 1200.2,157.7 1208.6,150.5 1215.9,147.9 1240.9,135.4 1260.1,134.7 1271.9,131 1280.8,127.3 1292.6,122.1 1304.8,118.4 1319.5,114.7 1329.8,112.5 1338.1,108.1 1349,104.4 1359.3,102.9 1372.6,102.9 1385.9,104.4 1400.6,105.2 1415.4,106.9 1425.7,107.7 1437.5,106.9 1452.3,105.9 1467,103.4 1481.8,102.9 1496.5,102.6 1513,103.2" fill="none" stroke="#FF80FF" stroke-width="1.12" shape-rendering="crispEdges"/>
<polyline points="120.1,227.5 126.9,231.7 138.7,235.5 148.8,236.7 157.2,235 167.3,230 177.5,221.6 184.2,216.5 190.9,214.8 204.4,215.6 219.6,216 228,219.9 236.5,220.2 244.9,224.9 253.3,229.1 261.8,234.2 271.9,237.6 283.7,243.5 295.5,248.5 306.5,250.6 314.6,255.3 324.2,256.1 341,255.6 349.5,251.6 357.9,251.6 368,256.1 379.8,260.7 395,266.6 406.8,276.4 418.6,284.8 430,292.4 452.9,310 464.7,321 472.3,335.3 487.5,357.2 500.9,369.9 514.4,382.5 527.9,392.6 541.4,404.1 551.5,404.8 563.3,407 576.8,413.2 586.9,412.9 597.1,408.7 605.5,400.2 612.2,391.3 622.4,387.9 634.2,382.8 646,379.1 656.1,378.3 667.9,378.8 676.3,384.2 683.1,390.9 696.6,398 706.7,402.2 716.8,404.4 726.9,408.7 740,411.2 743.5,411.4 760.4,411.1 768.8,408.9 778.1,404.3 787.3,404.3 797.5,404.7 814.3,408.9 831.2,409.7 837.9,411.1 848,418.2 856.8,419.5 868.3,417.3 882.6,409.7 896.1,395.4 907.1,381.9 917.2,367.6 925.6,352.4 934.1,337.2 944.5,320.4 956,306 959.9,300 975.9,281.7 989.4,267.3 999.5,262.3 1014.7,257.2 1024.8,247.9 1040,231.1 1059.4,209.1 1066.1,195.6 1075.4,183.8 1083.8,175.4 1093.9,170.7 1102.4,169.5 1110.8,165.3 1127.7,160.6 1137.3,165 1147.9,164.1 1163.1,155.2 1178.2,147.6 1183.4,147.2 1198.2,139.8 1205.5,130.2 1215.9,122.9 1227.7,114 1242,100.4 1250.8,99 1260.1,102.2 1271.9,105.9 1280.8,109.6 1290,110.3 1298.9,111.1 1311.8,114 1320.5,113.3 1329.4,110.3 1338.1,102.2 1346.8,98.5 1355.6,96.7 1364.5,98.2 1373.1,101.5 1381.8,102.2 1390.8,103.4 1399.5,104 1408,105.9 1416.9,109.6 1425.7,111.1 1434.3,110.3 1443.1,110 1451.8,107.8 1460.7,105.2 1469.4,102.9 1478.1,100.4 1486.6,99 1495.5,99.3 1504.3,100.4 1513,101.9" fill="none" stroke="#7a8484" stroke-width="1.12" shape-rendering="crispEdges"/>
<g shape-rendering="crispEdges" stroke="#000" stroke-width="1.4">
<line x1="944.7" x2="944.7" y1="50" y2="483"/><line x1="944.7" x2="944.7" y1="509" y2="655"/><line x1="944.7" x2="944.7" y1="706" y2="879"/>
</g>
<line x1="944.7" x2="944.7" y1="268" y2="286" stroke="#ff80ff" stroke-width="1.2"/>
<line x1="944.7" x2="944.7" y1="626" y2="655" stroke="#c080c0" stroke-width="1.2"/>
<line x1="944.7" x2="944.7" y1="751" y2="803" stroke="#40d8d8" stroke-width="1.4"/>
<path d="M552.5 460.5 H565 M552.5 460.5 l4 -2.6 v5.2 z" stroke="#000" fill="#000" stroke-width="1"/>
<text x="568" y="465.7" font-size="14.5" fill="#222" textLength="50.6" lengthAdjust="spacingAndGlyphs">3140.98</text>
<text x="1364.5" y="76.2" font-size="14.5" fill="#222" textLength="50.3" lengthAdjust="spacingAndGlyphs">3245.90</text>
<path d="M1347 70 l3.5 0.5 l-2 2.5 z" fill="#000"/>
<g fill="none" stroke="#FF0000" stroke-linecap="round">
<ellipse cx="1225.5" cy="75.5" rx="27.5" ry="9.8" stroke-width="3"/>
<ellipse cx="1352" cy="74.5" rx="27" ry="15.5" stroke-width="2.6" transform="rotate(-4 1352 74.5)"/>
<ellipse cx="1481" cy="87" rx="20.5" ry="7.8" stroke-width="2.6"/>
<path d="M1338 68.5 L1566 86.5 M1557 80.500 L1566 86.5 L1556 91" stroke-width="2.5"/>
<path d="M1297 560.5 L1563 635.8 M1558.500 629.8 L1564.5 636.500 L1555.500 638.800" stroke-width="4"/>
<path d="M1067 698.5 L1615 774.2 M1611 768.8 L1617 774.8 L1609 778" stroke-width="4"/>
</g>
</svg>
<svg class="a" style="left:30.500px;top:4.500px" width="19" height="16" viewBox="0 0 19 16"><path d="M0 5.2h7.500V0.500l8 7.500-8 7.500v-4.700H0z" fill="#3c3c3c"/><rect x="15.5" y="0.300" width="2.600" height="15.400" fill="#3c3c3c"/></svg>
<div class="tb" style="left:51px;width:38px">分时</div>
<div class="tb" style="left:89px;width:24px">日</div>
<div class="tb" style="left:113px;width:24px">周</div>
<div class="tb" style="left:137px;width:24px">月</div>
<div class="tb" style="left:161px;width:24px">季</div>
<div class="tb" style="left:185px;width:24px">年</div>
<div class="tb" style="left:209px;width:32px">1分</div>
<div class="tb sel" style="left:241px;width:32px">5分</div>
<div class="tb" style="left:273px;width:41px">15分</div>
<div class="tb" style="left:314px;width:39px">30分</div>
<div class="tb" style="left:353px;width:40px">60分</div>
<div class="tb" style="left:393px;width:52px">多周期</div>
<div class="tb" style="left:445px;width:39px">设置</div>
<div class="tb" style="left:484px;width:1px"></div>
<div class="tb" style="left:1209px;width:39px;border-top:none">九转</div>
<div class="tb" style="left:1248px;width:40px;border-top:none">事件</div>
<div class="tb" style="left:1288px;width:73px;border-top:none">热点回溯</div>
<div class="tb" style="left:1361px;width:53px;border-top:none">删自选</div>
<div class="tb" style="left:1414px;width:39px;border-top:none">均线</div>
<div class="tb" style="left:1453px;width:23px;border-top:none">窗</div>
<div class="tb" style="left:1476px;width:39px;border-top:none">预测</div>
<div class="tb" style="left:1515px;width:24px;border-top:none"></div>
<svg class="a" style="left:1518px;top:4.500px" width="19" height="16" viewBox="0 0 19 16"><path d="M0 5.2h7.500V0.500l8 7.500-8 7.500v-4.700H0z" fill="#3c3c3c"/><rect x="15.5" y="0.300" width="2.600" height="15.400" fill="#3c3c3c"/></svg>
<svg class="a" style="left:1200px;top:0" width="170" height="6"><path d="M43 0h5v5z" fill="#20d0e0"/><path d="M82 0h6v5z" fill="#e02020"/><path d="M155 0h6v5z" fill="#e02020"/></svg>
<span class="a" style="left:30.7px;top:29px;line-height:18px;font-size:14px;color:#1E8FA3;letter-spacing:-0.22px">5分钟(复权)</span>
<span class="a" style="left:113.8px;top:29px;line-height:18px;font-size:14px;color:#1E8FA3;letter-spacing:-0.25px">上证指数</span>
<span class="a" style="left:175px;top:29px;line-height:18px;font-size:14.5px;color:#808080;letter-spacing:-0.08px">MA8: 3178.59</span>
<svg class="a" style="left:264.5px;top:29px" width="7" height="15" viewBox="0 0 7 15"><path d="M3.5 15 V0.8 M0.6 4 L3.5 0.8 L6.4 4" fill="none" stroke="#ff4050" stroke-width="1.3"/></svg>
<span class="a" style="left:276.6px;top:29px;line-height:18px;font-size:14.5px;color:#FF80FF;letter-spacing:-0.12px">MA21: 3163.75</span>
<svg class="a" style="left:374px;top:29px" width="7" height="15" viewBox="0 0 7 15"><path d="M3.5 15 V0.8 M0.6 4 L3.5 0.8 L6.4 4" fill="none" stroke="#ff4050" stroke-width="1.3"/></svg>
<span class="a" style="left:386.2px;top:29px;line-height:18px;font-size:14.5px;color:#ff3030;letter-spacing:-0.11px">MA55: 3159.66</span>
<svg class="a" style="left:483.5px;top:29px" width="7" height="15" viewBox="0 0 7 15"><path d="M3.5 15 V0.8 M0.6 4 L3.5 0.8 L6.4 4" fill="none" stroke="#ff4050" stroke-width="1.3"/></svg>
<span class="a" style="left:497.3px;top:29px;line-height:18px;font-size:14.5px;color:#3a3aff;letter-spacing:-0.13px">MA89: 3172.72</span>
<svg class="a" style="left:595px;top:29px" width="7" height="15" viewBox="0 0 7 15"><path d="M3.5 0 V14.2 M0.6 11 L3.5 14.2 L6.400 11" fill="none" stroke="#30d0f0" stroke-width="1.3"/></svg>
<svg class="a" style="left:1340px;top:28px" width="200" height="22" viewBox="0 0 200 22" fill="none" stroke="#555" stroke-width="1.2" stroke-linecap="round" stroke-linejoin="round">
<path d="M4 17 C5 10 9 5 15 3 C14 9 11 13 6 14 M4 17 L7 13" stroke="#888"/>
<path d="M26 10.5 C30 5 42 5 46 10.5 C42 16 30 16 26 10.5z"/><circle cx="36" cy="10.5" r="2.8"/>
<path d="M55 12 l-2.5-3 c-1-1 1-2.5 2-1.5 l2 2 V4.5 c0-1.5 2-1.5 2 0 V3.5 c0-1.5 2-1.5 2 0 v1 c0-1.5 2-1.5 2 0 v1.5 c0-1.5 2-1.5 2 0 V13 c0 3-1.5 5-4.5 5 h-1.5 c-2 0-3-1.5-4.500-4z"/>
<path d="M76 7.500 h12 c6 0 6 9 0 9 h-10 M79 4.500 l-3 3 l3 3"/>
<path d="M104 3 l8 12 M116 3 l-8 12"/><circle cx="105.500" cy="16.500" r="2.3"/><circle cx="114.500" cy="16.500" r="2.300"/>
<rect x="130" y="10" width="12" height="9"/><path d="M132.500 10 V6.500 c0-4 7-4 7 0"/>
<circle cx="161.500" cy="11" r="7.200"/><path d="M157.500 11 h8 M161.500 7 v8"/>
<circle cx="186.500" cy="11" r="7.200"/><path d="M182.500 11 h8"/>
</svg>
<div class="yl r" style="top:43px">3252</div>
<div class="yl r" style="top:151px">3223</div>
<div class="yl r" style="top:259px">3193</div>
<div class="yl r" style="top:367px">3164</div>
<div class="yl k" style="top:502px">489</div>
<div class="yl k" style="top:574px">247</div>
<div class="yl r" style="top:699px;font-size:14px">+14.54</div>
<div class="yl r" style="top:708.3px;font-size:14px">+13.02</div>
<div class="yl r" style="top:751.5px;font-size:14px">+6.58</div>
<div class="yl r" style="top:789.5px;font-size:14px">+0.924</div>
<div class="yl g" style="top:837.5px;font-size:14px">-6.51</div>
<div class="a" style="left:1540px;top:784px;width:65px;height:24px;border-top:1px solid #888;border-bottom:1px solid #888"></div><div class="a" style="left:1553.5px;top:808px;width:4px;height:1.5px;background:#CC3344"></div>
<div class="a" style="left:1540px;top:635px;width:31px;height:21px;border:1px solid #666;font-size:14px;line-height:18px;text-align:center;color:#222;background:#fff">十万</div>
<span class="a" style="left:122px;top:488px;line-height:18px;font-size:14.5px;color:#808080;letter-spacing:-0.20px">MAVOL5: 1502万</span>
<svg class="a" style="left:234.5px;top:488px" width="7" height="15" viewBox="0 0 7 15"><path d="M3.5 0 V14.2 M0.6 11 L3.5 14.2 L6.400 11" fill="none" stroke="#30d0f0" stroke-width="1.3"/></svg>
<span class="a" style="left:246.5px;top:488px;line-height:18px;font-size:14.5px;color:#FF80FF;letter-spacing:-0.26px">MAVOL10: 1535万</span>
<svg class="a" style="left:366px;top:488px" width="7" height="15" viewBox="0 0 7 15"><path d="M3.5 15 V0.8 M0.6 4 L3.5 0.8 L6.4 4" fill="none" stroke="#ff4050" stroke-width="1.3"/></svg>
<div class="tab" style="left:100px;top:656px;width:90.3px;height:25px;line-height:24px;font-size:14px;border-top:none;border-bottom:1px solid #666">周期成交量</div>
<div class="tab" style="left:190.3px;top:656px;width:88px;height:25px;line-height:24px;font-size:14px;border-top:none;border-bottom:1px solid #666">虚拟成交量</div>
<div class="tab" style="left:278.3px;top:656px;width:45px;height:25px;line-height:24px;font-size:14px;border-top:none;border-bottom:1px solid #666">金额</div>
<div class="tab" style="left:323.3px;top:656px;width:74.3px;height:25px;line-height:24px;font-size:14px;border-top:none;border-bottom:1px solid #666">沪深金额</div>
<div class="tab" style="left:397.6px;top:656px;width:58.6px;height:25px;line-height:24px;font-size:14px;border-top:none;border-bottom:1px solid #666">换手率</div>
<div class="tab" style="left:456.2px;top:656px;width:46.6px;height:25px;line-height:24px;font-size:14px;border-top:none;border-bottom:1px solid #666">内盘</div>
<div class="tab" style="left:502.8px;top:656px;width:44.8px;height:25px;line-height:24px;font-size:14px;border-top:none;border-bottom:1px solid #666">外盘</div>
<div class="tab" style="left:547.6px;top:656px;width:87.8px;height:25px;line-height:24px;font-size:14px;border-top:none;border-bottom:1px solid #666">盘后成交量</div>
<div class="a" style="left:388.500px;top:658px;width:5px;height:5px;border-radius:3px;background:#f01010"></div>
<span class="a" style="left:118px;top:684.5px;line-height:18px;font-size:14.5px;color:#bbb;letter-spacing:0.67px">)</span>
<span class="a" style="left:134.2px;top:684.5px;line-height:18px;font-size:14.5px;color:#CC3344;letter-spacing:-0.03px">MACD: +7.99</span>
<svg class="a" style="left:222px;top:684.5px" width="7" height="15" viewBox="0 0 7 15"><path d="M3.5 0 V14.2 M0.6 11 L3.5 14.2 L6.400 11" fill="none" stroke="#30d0f0" stroke-width="1.3"/></svg>
<span class="a" style="left:234.3px;top:684.5px;line-height:18px;font-size:14.5px;color:#111;letter-spacing:-0.51px">DIFF: +7.71</span>
<svg class="a" style="left:307px;top:684.5px" width="7" height="15" viewBox="0 0 7 15"><path d="M3.5 15 V0.8 M0.6 4 L3.5 0.8 L6.4 4" fill="none" stroke="#ff4050" stroke-width="1.3"/></svg>
<span class="a" style="left:319.3px;top:684.5px;line-height:18px;font-size:14.5px;color:#FF80FF;letter-spacing:-0.23px">DEA: +3.71</span>
<svg class="a" style="left:392px;top:684.5px" width="7" height="15" viewBox="0 0 7 15"><path d="M3.5 15 V0.8 M0.6 4 L3.5 0.8 L6.4 4" fill="none" stroke="#ff4050" stroke-width="1.3"/></svg>
<span class="a" style="left:403.9px;top:684.5px;line-height:18px;font-size:14.5px;color:#CC3344;letter-spacing:-0.57px">RSI(6,6,6)</span>
<span class="a" style="left:470.3px;top:684.5px;line-height:18px;font-size:14.5px;color:#CC3344;letter-spacing:-0.39px">RSI6: +88.22</span>
<svg class="a" style="left:551.5px;top:684.5px" width="7" height="15" viewBox="0 0 7 15"><path d="M3.5 0 V14.2 M0.6 11 L3.5 14.2 L6.400 11" fill="none" stroke="#30d0f0" stroke-width="1.3"/></svg>
<span class="a" style="left:563.7px;top:684.5px;line-height:18px;font-size:14.5px;color:#111;letter-spacing:-0.40px">RSI6: +88.22</span>
<svg class="a" style="left:645px;top:684.5px" width="7" height="15" viewBox="0 0 7 15"><path d="M3.5 0 V14.2 M0.6 11 L3.5 14.2 L6.400 11" fill="none" stroke="#30d0f0" stroke-width="1.3"/></svg>
<span class="a" style="left:656.9px;top:684.5px;line-height:18px;font-size:14.5px;color:#1E9BF0;letter-spacing:-0.30px">RSI6: +88.22</span>
<svg class="a" style="left:738.5px;top:684.5px" width="7" height="15" viewBox="0 0 7 15"><path d="M3.5 0 V14.2 M0.6 11 L3.5 14.2 L6.400 11" fill="none" stroke="#30d0f0" stroke-width="1.3"/></svg>
<div class="a" style="left:1457px;top:681px;width:83px;height:25px;border:1px solid #444;border-top:none;font-size:16.5px;line-height:23px;text-align:center;color:#555;background:#fff;padding-left:1px">指标说明</div>
<div class="a" style="left:43.7px;top:879px;width:1px;height:4px;background:#333"></div>
<div class="tl" style="left:44.5px">15:00</div>
<div class="a" style="left:131.3px;top:879px;width:1px;height:4px;background:#333"></div>
<div class="tl" style="left:132.1px">10:20</div>
<div class="a" style="left:236.3px;top:879px;width:1px;height:4px;background:#333"></div>
<div class="tl" style="left:237.1px">11:20</div>
<div class="a" style="left:323.8px;top:879px;width:1px;height:4px;background:#333"></div>
<div class="tl" style="left:324.6px">13:40</div>
<div class="a" style="left:428.8px;top:879px;width:1px;height:4px;background:#333"></div>
<div class="tl" style="left:429.6px">14:40</div>
<div class="a" style="left:515.5px;top:879px;width:1px;height:4px;background:#333"></div>
<div class="tl" style="left:516.3px">10:00</div>
<div class="a" style="left:620.3px;top:879px;width:1px;height:4px;background:#333"></div>
<div class="tl" style="left:621.1px">11:00</div>
<div class="a" style="left:708.4px;top:879px;width:1px;height:4px;background:#333"></div>
<div class="tl" style="left:709.2px">13:20</div>
<div class="a" style="left:813.3px;top:879px;width:1px;height:4px;background:#333"></div>
<div class="tl" style="left:814.1px">14:20</div>
<div class="a" style="left:900.3px;top:879px;width:1px;height:4px;background:#333"></div>
<div class="tl" style="left:901.1px">09:40</div>
<div class="a" style="left:1128.5px;top:879px;width:1px;height:4px;background:#333"></div>
<div class="tl" style="left:1129.3px">13:20</div>
<div class="a" style="left:1233.4px;top:879px;width:1px;height:4px;background:#333"></div>
<div class="tl" style="left:1234.2px">14:20</div>
<div class="a" style="left:1320.3px;top:879px;width:1px;height:4px;background:#333"></div>
<div class="tl" style="left:1321.1px">09:40</div>
<div class="a" style="left:1425.2px;top:879px;width:1px;height:4px;background:#333"></div>
<div class="tl" style="left:1426px">10:40</div>
<div class="a" style="left:945px;top:879px;width:200px;height:22px;border:1px solid #777;border-top:none;background:#fff;font-size:14.5px;line-height:21px;padding-left:1.5px;color:#222;letter-spacing:-0.19px">25-01-14 10:05 至今涨幅1.32%</div>
<div class="tab" style="left:28px;top:901px;width:43px;height:23px;line-height:20px;font-size:15.5px;border-left:1px solid #444">设置</div>
<div class="tab" style="left:71px;top:901px;width:113px;height:23px;line-height:20px;font-size:15.5px;border:1.5px solid #333;text-align:left;padding-left:42px"><span class="a" style="left:5px;top:3px;width:33px;height:15px;background:#6e1216;color:#fff;font-size:11px;line-height:15px;text-align:center;border-radius:6px 6px 6px 0">NEW</span>指标广场</div>
<div class="tab" style="left:184px;top:901px;width:76px;height:23px;line-height:20px;font-size:15.5px;text-align:left;padding-left:36px"><svg class="a" style="left:9px;top:3px" width="22" height="17" viewBox="0 0 22 17" fill="none" stroke="#555" stroke-width="1.3"><rect x="2" y="4" width="17" height="11" rx="5"/><path d="M10.500 1v3"/><path d="M8 8.500v3 M13 8.500v3" stroke-width="1.6"/></svg>新建</div>
<div class="tab" style="left:260px;top:901px;width:63px;height:23px;line-height:22px;font-size:15.5px;background:#000;color:#fff;border-color:#000">MACD</div>
<div class="tab" style="left:323px;top:901px;width:43px;height:23px;line-height:22px;font-size:15.5px">KDJ</div>
<div class="tab" style="left:366px;top:901px;width:39px;height:23px;line-height:22px;font-size:15.5px">RSI</div>
<div class="tab" style="left:405px;top:901px;width:46px;height:23px;line-height:22px;font-size:15.5px">DMI</div>
<div class="a" style="left:28px;top:924px;width:1892px;height:2px;background:#111"></div>
<div class="tab" style="left:28.3px;top:926px;width:74.2px;height:24px;line-height:26px;font-size:14px;border-top:none;border-left:1px solid #444;">指数新闻</div>
<div class="tab" style="left:102.5px;top:926px;width:75px;height:24px;line-height:26px;font-size:14px;border-top:none;">股市直播</div>
<div class="tab" style="left:177.5px;top:926px;width:75px;height:24px;line-height:26px;font-size:14px;border-top:none;">投资机会</div>
<div class="tab" style="left:252.5px;top:926px;width:46.8px;height:24px;line-height:26px;font-size:14px;border-top:none;">社区</div>
<svg class="a" style="left:1572px;top:929px" width="18" height="17" viewBox="0 0 18 17"><rect x="1" y="1" width="16" height="2" fill="#333"/><path d="M9 4l7 7h-4.500v5h-5v-5H2z" fill="#333"/></svg>
<div class="side " style="top:0px;height:71px;line-height:19.5px;justify-content:flex-start;padding-top:1px"><span>»</span><span>推</span><span>荐</span><span style="font-size:9px;line-height:10px;color:#e01010;font-weight:bold;letter-spacing:-0.5px;margin-top:2px">NEW</span></div>
<div class="side " style="top:72.5px;height:61px;line-height:20px"><span>首</span><span>页</span></div>
<div class="side " style="top:134.7px;height:68px"><span>分</span><span>时</span><span>图</span></div>
<div class="side k" style="top:203.7px;height:70px"><span>K</span><span>线</span><span>图</span></div>
<div class="side " style="top:275px;height:88.5px"><span>大</span><span>盘</span><span>资</span><span>料</span></div>
<div class="side " style="top:364.5px;height:68px"><span>自</span><span>选</span><span>股</span></div>
<div class="side " style="top:433.6px;height:89px"><span>综</span><span>合</span><span>排</span><span>名</span></div>
<div class="side " style="top:524px;height:68px"><span>更</span><span>多</span></div>
<div class="info">
<div class="k" style="top:4.5px;">时间</div>
<div class="k" style="top:29.4px;letter-spacing:0.6px;">01-14</div>
<div class="k" style="top:55.4px;letter-spacing:0.6px;">10:05</div>
<div class="k" style="top:82.7px;">数值</div>
<div class="r" style="top:107.5px;letter-spacing:0.6px;">+0.924</div>
<div class="k" style="top:134.8px;">开盘价</div>
<div class="r" style="top:159.6px;letter-spacing:0.6px;">3191.71</div>
<div class="k" style="top:186.8px;">最高价</div>
<div class="r" style="top:211.7px;letter-spacing:0.6px;">3192.84</div>
<div class="k" style="top:239px;">最低价</div>
<div class="g" style="top:263.8px;letter-spacing:0.6px;">3188.12</div>
<div class="k" style="top:291.1px;">收盘价</div>
<div class="g" style="top:315.9px;letter-spacing:0.6px;">3189.42</div>
<div class="k" style="top:343.2px;">涨跌</div>
<div class="g" style="top:368px;letter-spacing:0.6px;">-1.31</div>
<div class="k" style="top:395.2px;">涨幅</div>
<div class="g" style="top:420.1px;letter-spacing:0.6px;">-0.04%</div>
<div class="k" style="top:447.4px;">振幅</div>
<div class="t" style="top:472.2px;letter-spacing:0.6px;">0.15%</div>
<div class="k" style="top:499.4px;">成交量</div>
<div class="k" style="top:524.3px;letter-spacing:0.6px;">1226万</div>
<div class="k" style="top:551.6px;">成交额</div>
<div class="t" style="top:576.4px;letter-spacing:0.6px;">143.4亿</div>
<div class="k" style="top:603.6px;">换手</div>
<div class="t" style="top:628.5px;letter-spacing:0.6px;">0.03%</div>
<div class="k" style="top:655.8px;">开盘</div>
<div class="k" style="top:681.8px;">涨幅</div>
<div class="r" style="top:706.6px;letter-spacing:0.6px;">+0.03%</div>
</div>
<svg class="a" style="left:102px;top:50px" width="18" height="33" viewBox="0 0 18 33" fill="#fff" stroke="#000"><rect x="0.5" y="0.5" width="17" height="16"/><rect x="0.5" y="16.5" width="17" height="16"/><path d="M4.800 4l9.900 9.500M14.700 4L4.800 13.500" stroke="#555" stroke-width="1"/><g stroke="#909090" fill="none" stroke-width="1" stroke-linejoin="round"><circle cx="9.400" cy="25.100" r="2.200"/><path d="M13.8 23.9 L15.4 24.2 L15.4 26.0 L13.8 26.3 L13.4 27.4 L14.3 28.7 L13.0 30.0 L11.7 29.1 L10.6 29.5 L10.3 31.1 L8.5 31.1 L8.2 29.5 L7.1 29.1 L5.8 30.0 L4.5 28.7 L5.4 27.4 L5.0 26.3 L3.4 26.0 L3.4 24.2 L5.0 23.9 L5.4 22.8 L4.5 21.5 L5.8 20.2 L7.1 21.1 L8.2 20.7 L8.5 19.1 L10.3 19.1 L10.6 20.7 L11.7 21.1 L13.0 20.2 L14.3 21.5 L13.4 22.8Z"/></g></svg>
<div class="a" style="left:1605px;top:0;width:1px;height:949px;background:#333"></div>
<div class="a" style="left:1606px;top:0;width:26px;height:25px;border-right:1px solid #333;border-bottom:1px solid #333"></div>
<svg class="a" style="left:1609px;top:4.500px" width="19" height="16" viewBox="0 0 19 16"><path d="M0 5.2h7.500V0.500l8 7.500-8 7.500v-4.700H0z" fill="#3c3c3c"/><rect x="15.5" y="0.300" width="2.600" height="15.400" fill="#3c3c3c"/></svg>
<div class="a" style="left:1645px;top:2px;font-size:29.3px;line-height:38px;color:#17849A;letter-spacing:-0.3px">上证指数<span style="letter-spacing:0px;margin-left:9px">000001</span></div>
<div class="a" style="left:1628px;top:37px;font-size:31px;line-height:38px;color:#119911;letter-spacing:0.2px">3232.97</div>
<div class="a" style="left:1783px;top:52px;font-size:17.2px;line-height:22px;color:#119911">-7.97</div>
<div class="a" style="left:1853.5px;top:52px;font-size:17.2px;line-height:22px;color:#119911">-0.25%</div>
<div class="hl" style="top:80px"></div>
<div class="hl" style="top:364px"></div>
<div class="hl" style="top:445px"></div>
<div class="hl" style="top:668px"></div>
<div class="rp rl" style="top:96px">最新</div><div class="rp rv g" style="top:96px">3232.97</div><div class="rp rl2" style="top:96px">昨收</div><div class="rp rv2 k" style="top:96px">3240.94</div>
<div class="rp rl" style="top:143px">涨跌</div><div class="rp rv g" style="top:143px">-7.97</div><div class="rp rl2" style="top:143px">开盘</div><div class="rp rv2 g" style="top:143px">3234.72</div>
<div class="rp rl" style="top:190px">涨幅</div><div class="rp rv g" style="top:190px">-0.25%</div><div class="rp rl2" style="top:190px">最高</div><div class="rp rv2 r" style="top:190px">3245.90</div>
<div class="rp rl" style="top:237px">振幅</div><div class="rp rv t" style="top:237px">0.52%</div><div class="rp rl2" style="top:237px">最低</div><div class="rp rv2 g" style="top:237px">3229.12</div>
<div class="rp rl" style="top:284px">现手</div><div class="rp rv t" style="top:284px">28460</div><div class="rp rl2" style="top:284px">量比</div><div class="rp rv2 r" style="top:284px">1.32</div>
<div class="rp rl" style="top:331px">总手</div><div class="rp rv t" style="top:331px">2.77亿</div><div class="rp rl2" style="top:331px">金额</div><div class="rp rv2 t" style="top:331px">3200亿</div>
<div class="a" style="left:1606px;top:365px;width:314px;height:80px;overflow:hidden">
<div class="rp" style="left:3px;top:1.5px">三市成交额(沪深京)</div><div class="rp t" style="right:2px;top:1.5px;text-align:right">8353亿</div>
<div class="rp" style="left:3px;top:23.9px">预估成交额</div><div class="rp t" style="right:2px;top:23.9px;text-align:right">1.40万亿</div>
<div class="rp" style="left:3px;top:46.3px">较上日此时</div><div class="rp r" style="right:2px;top:46.3px;text-align:right">+189.9亿</div>
<div class="rp" style="left:3px;top:68.7px">沪股通额度余额</div><div class="rp t" style="right:2px;top:68.7px;text-align:right">额度充足</div>
</div>
<div class="rp rl" style="top:465px">市盈</div><div class="rp rv k" style="top:465px">15.58</div><div class="rp rl2" style="top:465px">上涨家数</div><div class="rp rv2 r" style="top:465px">765</div>
<div class="rp rl" style="top:520px">市盈(动)</div><div class="rp rv k" style="top:520px">14.07</div><div class="rp rl2" style="top:520px">平盘家数</div><div class="rp rv2 t" style="top:520px">98</div>
<div class="rp rl" style="top:575.5px">市净率</div><div class="rp rv k" style="top:575.5px">1.26</div><div class="rp rl2" style="top:575.5px">下跌家数</div><div class="rp rv2 g" style="top:575.5px">1457</div>
<div class="rp rl" style="top:630px">换手</div><div class="rp rv t" style="top:630px">0.60%</div><div class="rp rl2" style="top:630px">均价</div><div class="rp rv2 g" style="top:630px">21.04</div>
<div class="a" style="left:1609px;top:671px;font-size:18.5px;line-height:24px;color:#111">现价</div>
<div class="a g" style="left:1692px;top:671px;font-size:18px;line-height:24px;letter-spacing:0.7px">3232.97</div>
<div class="a" style="left:1791px;top:671px;font-size:18px;line-height:24px;color:#111;letter-spacing:1.1px">2025-01-15.</div>
<svg class="a" style="left:1901px;top:674px" width="16" height="11"><path d="M1 1.500h14M1 9.500h14" stroke="#333" stroke-width="1.200"/></svg>
<svg class="a" style="left:0;top:0" width="1920" height="949" viewBox="0 0 1920 949">
<g shape-rendering="crispEdges" fill="none" stroke="#666">
<line x1="1663" x2="1863" y1="723.5" y2="723.5"/>
<line x1="1663" x2="1863" y1="750.5" y2="750.5"/>
<line x1="1663" x2="1863" y1="803.5" y2="803.5"/>
<line x1="1663" x2="1863" y1="829.5" y2="829.5"/>
<line x1="1663" x2="1863" y1="890.5" y2="890.5"/>
<line x1="1714.5" x2="1714.5" y1="697" y2="924"/>
<line x1="1812.5" x2="1812.5" y1="697" y2="924"/>
<line x1="1689.5" x2="1689.5" y1="697" y2="924" stroke-dasharray="1 3" stroke="#555"/>
<line x1="1739.5" x2="1739.5" y1="697" y2="924" stroke-dasharray="1 3" stroke="#555"/>
<line x1="1789.5" x2="1789.5" y1="697" y2="924" stroke-dasharray="1 3" stroke="#555"/>
<line x1="1837.5" x2="1837.5" y1="697" y2="924" stroke-dasharray="1 3" stroke="#555"/>
<line x1="1663" x2="1863" y1="775.500" y2="775.500" stroke="#555"/><line x1="1663" x2="1863" y1="777.500" y2="777.500" stroke="#666"/>
<line x1="1765" x2="1765" y1="697" y2="924" stroke="#444" stroke-width="2"/>
<rect x="1662.500" y="696.500" width="201" height="159" stroke="#111" stroke-width="1.600"/>
<path d="M1662.500 855.500V924H1863.500V855.500" stroke="#666"/>
</g>
<g shape-rendering="crispEdges">
<line x1="1664.5" x2="1664.5" y1="923.500" y2="887.6" stroke="#1B911B"/>
<line x1="1665.5" x2="1665.5" y1="923.500" y2="859.5" stroke="#1B911B"/>
<line x1="1666.5" x2="1666.5" y1="923.500" y2="876.4" stroke="#1B911B"/>
<line x1="1667.5" x2="1667.5" y1="923.500" y2="888" stroke="#1B911B"/>
<line x1="1668.5" x2="1668.5" y1="923.500" y2="895.8" stroke="#C8781E"/>
<line x1="1669.5" x2="1669.5" y1="923.500" y2="888.9" stroke="#C8781E"/>
<line x1="1670.5" x2="1670.5" y1="923.500" y2="893.8" stroke="#1B911B"/>
<line x1="1671.5" x2="1671.5" y1="923.500" y2="898.8" stroke="#1B911B"/>
<line x1="1673.5" x2="1673.5" y1="923.500" y2="902" stroke="#C8781E"/>
<line x1="1674.5" x2="1674.5" y1="923.500" y2="901.5" stroke="#1B911B"/>
<line x1="1675.5" x2="1675.5" y1="923.500" y2="899.8" stroke="#1B911B"/>
<line x1="1677.5" x2="1677.5" y1="923.500" y2="899.5" stroke="#C8781E"/>
<line x1="1678.5" x2="1678.5" y1="923.500" y2="900.3" stroke="#C8781E"/>
<line x1="1679.5" x2="1679.5" y1="923.500" y2="899.3" stroke="#C8781E"/>
<line x1="1680.5" x2="1680.5" y1="923.500" y2="901.8" stroke="#1B911B"/>
<line x1="1681.5" x2="1681.5" y1="923.500" y2="904.2" stroke="#1B911B"/>
<line x1="1682.5" x2="1682.5" y1="923.500" y2="903.4" stroke="#1B911B"/>
<line x1="1683.5" x2="1683.5" y1="923.500" y2="903.1" stroke="#C8781E"/>
<line x1="1684.5" x2="1684.5" y1="923.500" y2="901.2" stroke="#1B911B"/>
<line x1="1685.5" x2="1685.5" y1="923.500" y2="904.9" stroke="#1B911B"/>
<line x1="1686.5" x2="1686.5" y1="923.500" y2="903.1" stroke="#1B911B"/>
<line x1="1687.5" x2="1687.5" y1="923.500" y2="901.2" stroke="#1B911B"/>
<line x1="1688.5" x2="1688.5" y1="923.500" y2="908.3" stroke="#1B911B"/>
<line x1="1689.5" x2="1689.5" y1="923.500" y2="902.9" stroke="#1B911B"/>
<line x1="1690.5" x2="1690.5" y1="923.500" y2="907.7" stroke="#1B911B"/>
<line x1="1692.5" x2="1692.5" y1="923.500" y2="911.2" stroke="#1B911B"/>
<line x1="1693.5" x2="1693.5" y1="923.500" y2="910.8" stroke="#C8781E"/>
<line x1="1694.5" x2="1694.5" y1="923.500" y2="912.4" stroke="#C8781E"/>
<line x1="1695.5" x2="1695.5" y1="923.500" y2="909.4" stroke="#1B911B"/>
<line x1="1696.5" x2="1696.5" y1="923.500" y2="912.7" stroke="#C8781E"/>
<line x1="1697.5" x2="1697.5" y1="923.500" y2="910.4" stroke="#1B911B"/>
<line x1="1698.5" x2="1698.5" y1="923.500" y2="913.8" stroke="#C8781E"/>
<line x1="1699.5" x2="1699.5" y1="923.500" y2="912.8" stroke="#1B911B"/>
<line x1="1700.5" x2="1700.5" y1="923.500" y2="915.1" stroke="#C8781E"/>
<line x1="1701.5" x2="1701.5" y1="923.500" y2="913.2" stroke="#1B911B"/>
<line x1="1702.5" x2="1702.5" y1="923.500" y2="913.7" stroke="#1B911B"/>
<line x1="1703.5" x2="1703.5" y1="923.500" y2="915.6" stroke="#1B911B"/>
<line x1="1704.5" x2="1704.5" y1="923.500" y2="913" stroke="#1B911B"/>
<line x1="1705.5" x2="1705.5" y1="923.500" y2="914.9" stroke="#C8781E"/>
<line x1="1706.5" x2="1706.5" y1="923.500" y2="916.2" stroke="#C8781E"/>
<line x1="1707.5" x2="1707.5" y1="923.500" y2="916.1" stroke="#C8781E"/>
<line x1="1709.5" x2="1709.5" y1="923.500" y2="915.9" stroke="#C8781E"/>
<line x1="1710.5" x2="1710.5" y1="923.500" y2="915.3" stroke="#C8781E"/>
<line x1="1711.5" x2="1711.5" y1="923.500" y2="916.1" stroke="#C8781E"/>
<line x1="1712.5" x2="1712.5" y1="923.500" y2="914.6" stroke="#1B911B"/>
<line x1="1713.5" x2="1713.5" y1="923.500" y2="915.7" stroke="#C8781E"/>
<line x1="1714.5" x2="1714.5" y1="923.500" y2="916.1" stroke="#C8781E"/>
<line x1="1715.5" x2="1715.5" y1="923.500" y2="916.7" stroke="#C8781E"/>
<line x1="1716.5" x2="1716.5" y1="923.500" y2="915.6" stroke="#C8781E"/>
<line x1="1717.5" x2="1717.5" y1="923.500" y2="917.3" stroke="#1B911B"/>
<line x1="1718.5" x2="1718.5" y1="923.500" y2="915.2" stroke="#1B911B"/>
<line x1="1719.5" x2="1719.5" y1="923.500" y2="916.9" stroke="#C8781E"/>
<line x1="1720.5" x2="1720.5" y1="923.500" y2="916.8" stroke="#1B911B"/>
<line x1="1721.5" x2="1721.5" y1="923.500" y2="917.8" stroke="#1B911B"/>
<line x1="1722.5" x2="1722.5" y1="923.500" y2="916.7" stroke="#1B911B"/>
<line x1="1723.5" x2="1723.5" y1="923.500" y2="917.1" stroke="#C8781E"/>
<line x1="1724.5" x2="1724.5" y1="923.500" y2="917.3" stroke="#C8781E"/>
<line x1="1726.5" x2="1726.5" y1="923.500" y2="914.3" stroke="#C8781E"/>
<line x1="1727.5" x2="1727.5" y1="923.500" y2="913.4" stroke="#1B911B"/>
<line x1="1728.5" x2="1728.5" y1="923.500" y2="915.3" stroke="#C8781E"/>
<line x1="1729.5" x2="1729.5" y1="923.500" y2="914.7" stroke="#1B911B"/>
<line x1="1730.5" x2="1730.5" y1="923.500" y2="912" stroke="#1B911B"/>
<line x1="1731.5" x2="1731.5" y1="923.500" y2="912.1" stroke="#C8781E"/>
<line x1="1732.5" x2="1732.5" y1="923.500" y2="911.7" stroke="#1B911B"/>
<line x1="1733.5" x2="1733.5" y1="923.500" y2="913.4" stroke="#C8781E"/>
<line x1="1734.5" x2="1734.5" y1="923.500" y2="913.9" stroke="#1B911B"/>
<line x1="1735.5" x2="1735.5" y1="923.500" y2="913.7" stroke="#C8781E"/>
<line x1="1736.5" x2="1736.5" y1="923.500" y2="912.4" stroke="#C8781E"/>
<line x1="1737.5" x2="1737.5" y1="923.500" y2="914.6" stroke="#1B911B"/>
<line x1="1738.5" x2="1738.5" y1="923.500" y2="915.3" stroke="#1B911B"/>
<line x1="1739.5" x2="1739.5" y1="923.500" y2="914.2" stroke="#C8781E"/>
<line x1="1740.5" x2="1740.5" y1="923.500" y2="916.6" stroke="#C8781E"/>
<line x1="1741.5" x2="1741.5" y1="923.500" y2="915.8" stroke="#1B911B"/>
<line x1="1742.5" x2="1742.5" y1="923.500" y2="916.3" stroke="#1B911B"/>
<line x1="1743.5" x2="1743.5" y1="923.500" y2="916.6" stroke="#C8781E"/>
<line x1="1744.5" x2="1744.5" y1="923.500" y2="916.2" stroke="#1B911B"/>
<line x1="1745.5" x2="1745.5" y1="923.500" y2="915.3" stroke="#C8781E"/>
<line x1="1746.5" x2="1746.5" y1="923.500" y2="915.2" stroke="#1B911B"/>
<line x1="1747.5" x2="1747.5" y1="923.500" y2="913.6" stroke="#C8781E"/>
<line x1="1748.5" x2="1748.5" y1="923.500" y2="915.2" stroke="#1B911B"/>
<line x1="1749.5" x2="1749.5" y1="923.500" y2="917" stroke="#C8781E"/>
<line x1="1750.5" x2="1750.5" y1="923.500" y2="917.3" stroke="#1B911B"/>
<line x1="1751.5" x2="1751.5" y1="923.500" y2="916.2" stroke="#1B911B"/>
<line x1="1752.5" x2="1752.5" y1="923.500" y2="916.9" stroke="#1B911B"/>
<line x1="1753.5" x2="1753.5" y1="923.500" y2="916" stroke="#C8781E"/>
<line x1="1754.5" x2="1754.5" y1="923.500" y2="917.7" stroke="#C8781E"/>
<line x1="1755.5" x2="1755.5" y1="923.500" y2="917.4" stroke="#1B911B"/>
<line x1="1756.5" x2="1756.5" y1="923.500" y2="916.8" stroke="#C8781E"/>
<line x1="1757.5" x2="1757.5" y1="923.500" y2="917.5" stroke="#1B911B"/>
<line x1="1758.5" x2="1758.5" y1="923.500" y2="917.3" stroke="#1B911B"/>
<line x1="1759.5" x2="1759.5" y1="923.500" y2="915.7" stroke="#1B911B"/>
<line x1="1760.5" x2="1760.5" y1="923.500" y2="915.3" stroke="#C8781E"/>
<line x1="1761.5" x2="1761.5" y1="923.500" y2="916.5" stroke="#1B911B"/>
<line x1="1762.5" x2="1762.5" y1="923.500" y2="919.8" stroke="#C8781E"/>
<line x1="1763.5" x2="1763.5" y1="923.500" y2="921.1" stroke="#C8781E"/>
</g>
<polyline points="1663.7,776 1665.8,777.9 1667.1,776.7 1669,784.3 1670.2,814.6 1671.5,824.7 1672.8,805.8 1674.7,808.3 1675.9,803.2 1677.6,824.7 1678.8,815.9 1680.4,793.1 1682.6,800.7 1686,793.1 1686.9,805.8 1689.2,809.6 1691.7,812.1 1694.3,815.9 1696.2,826 1699.1,828.5 1700.6,818.4 1702.5,803.2 1705.6,800.7 1710.1,794.4 1712.6,799.4 1713.9,795.6 1715.8,800.7 1718.3,793.1 1722.7,783 1725.9,783 1729,771 1731.6,783.6 1734.1,780.5 1737.3,770.4 1739.8,765.3 1743,759.6 1744.9,759 1746.7,754.5 1749.3,765.3 1751.2,774.1 1753.1,779.2 1756.2,776 1758.8,778.6 1760.7,790.6 1763.2,794.4" fill="none" stroke="#2a9fd0" stroke-width="0.9"/>
<polyline points="1663.7,793.7 1666.4,789 1669,797 1670.9,791.9 1672.8,791.3 1675.9,786.1 1678.5,786.8 1680.4,772.9 1682.2,771.3 1684.1,766.9 1686.7,773.2 1687.9,777.6 1689.8,780.4 1691.7,784.7 1693.6,787.9 1695.5,789.4 1698.7,799.2 1700.6,795.7 1703.1,787.5 1705.6,785.8 1707.5,789.3 1710.7,787.5 1712.6,786.7 1714.5,790.1 1716.4,792.9 1718.9,788.9 1722.1,784.3 1724.6,787.8 1727.8,781.8 1730.9,787.2 1734.1,788.4 1737.3,782.7 1739.2,780.8 1741.1,775.3 1744.2,774 1746.7,770.7 1749.3,782.7 1751.8,785.4 1755,786.8 1757.5,785.3 1760,794.5 1762.6,796.1 1764.5,794.6" fill="none" stroke="#197f8c" stroke-width="3.700" stroke-linejoin="round"/>
</svg>
<div class="ml r" style="left:1620px;width:40px;text-align:right;top:690.5px">3273</div><div class="ml r" style="left:1865px;top:690.5px">1.00%</div>
<div class="ml r" style="left:1620px;width:40px;text-align:right;top:716.5px">3263</div><div class="ml r" style="left:1865px;top:716.5px">0.67%</div>
<div class="ml r" style="left:1620px;width:40px;text-align:right;top:741.9px">3252</div><div class="ml r" style="left:1865px;top:741.9px">0.33%</div>
<div class="ml k" style="left:1620px;width:40px;text-align:right;top:768px">3241</div><div class="ml k" style="left:1865px;top:768px">0.00%</div>
<div class="ml g" style="left:1620px;width:40px;text-align:right;top:794.5px">3230</div><div class="ml g" style="left:1865px;top:794.5px">0.33%</div>
<div class="ml g" style="left:1620px;width:40px;text-align:right;top:821px">3219</div><div class="ml g" style="left:1865px;top:821px">0.67%</div>
<div class="ml g" style="left:1620px;width:40px;text-align:right;top:847px">3209</div><div class="ml g" style="left:1865px;top:847px">1.00%</div>
<div class="ml t" style="left:1620px;width:40px;text-align:right;top:881.500px">644</div>
<div class="a t" style="left:1647px;top:905px;width:15px;height:18px;border:1px solid #888;font-size:14px;line-height:16px;text-align:center;background:#fff">万</div>
<div class="tab" style="left:1606px;top:926px;width:46px;height:24px;line-height:23px;font-size:15px;background:#000;color:#fff;border-color:#000">分时</div>
<div class="tab" style="left:1652px;top:926px;width:46px;height:24px;line-height:23px;font-size:15px;border-top:none">筹码</div>
<div class="tab" style="left:1698px;top:926px;width:46px;height:24px;line-height:23px;font-size:15px;border-top:none">火焰</div>
</body></html>
